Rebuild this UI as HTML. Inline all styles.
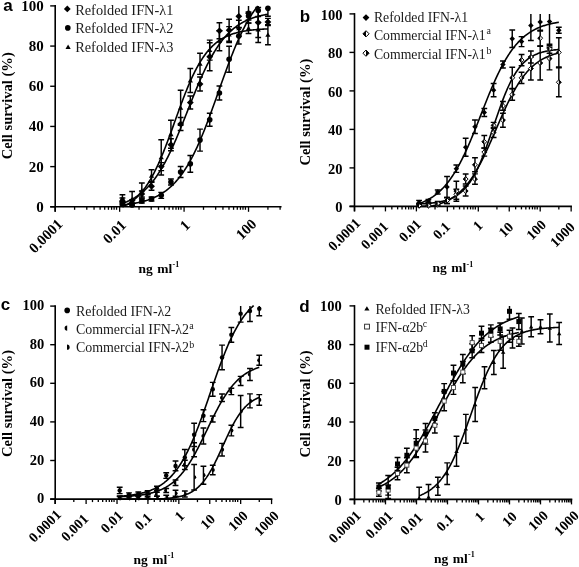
<!DOCTYPE html>
<html><head><meta charset="utf-8"><style>
html,body{margin:0;padding:0;background:#fff;}
svg{display:block;will-change:transform;}
</style></head><body>
<svg width="579" height="567" viewBox="0 0 579 567">
<rect width="579" height="567" fill="#fff"/>
<line x1="55.20" y1="5.10" x2="55.20" y2="211.80" stroke="#000" stroke-width="1.6"/>
<line x1="50.20" y1="206.80" x2="281.54" y2="206.80" stroke="#000" stroke-width="1.6"/>
<line x1="50.20" y1="206.80" x2="55.20" y2="206.80" stroke="#000" stroke-width="1.4"/>
<line x1="50.20" y1="166.62" x2="55.20" y2="166.62" stroke="#000" stroke-width="1.4"/>
<line x1="50.20" y1="126.44" x2="55.20" y2="126.44" stroke="#000" stroke-width="1.4"/>
<line x1="50.20" y1="86.26" x2="55.20" y2="86.26" stroke="#000" stroke-width="1.4"/>
<line x1="50.20" y1="46.08" x2="55.20" y2="46.08" stroke="#000" stroke-width="1.4"/>
<line x1="50.20" y1="5.90" x2="55.20" y2="5.90" stroke="#000" stroke-width="1.4"/>
<line x1="55.20" y1="206.80" x2="55.20" y2="211.80" stroke="#000" stroke-width="1.3"/>
<line x1="74.60" y1="206.80" x2="74.60" y2="209.80" stroke="#000" stroke-width="1.3"/>
<line x1="86.78" y1="206.80" x2="86.78" y2="209.80" stroke="#000" stroke-width="1.3"/>
<line x1="94.06" y1="206.80" x2="94.06" y2="209.80" stroke="#000" stroke-width="1.3"/>
<line x1="100.11" y1="206.80" x2="100.11" y2="209.80" stroke="#000" stroke-width="1.3"/>
<line x1="104.69" y1="206.80" x2="104.69" y2="209.80" stroke="#000" stroke-width="1.3"/>
<line x1="108.43" y1="206.80" x2="108.43" y2="209.80" stroke="#000" stroke-width="1.3"/>
<line x1="111.59" y1="206.80" x2="111.59" y2="209.80" stroke="#000" stroke-width="1.3"/>
<line x1="114.10" y1="206.80" x2="114.10" y2="209.80" stroke="#000" stroke-width="1.3"/>
<line x1="116.55" y1="206.80" x2="116.55" y2="209.80" stroke="#000" stroke-width="1.3"/>
<line x1="119.64" y1="206.80" x2="119.64" y2="211.80" stroke="#000" stroke-width="1.3"/>
<line x1="139.04" y1="206.80" x2="139.04" y2="209.80" stroke="#000" stroke-width="1.3"/>
<line x1="151.22" y1="206.80" x2="151.22" y2="209.80" stroke="#000" stroke-width="1.3"/>
<line x1="158.50" y1="206.80" x2="158.50" y2="209.80" stroke="#000" stroke-width="1.3"/>
<line x1="164.55" y1="206.80" x2="164.55" y2="209.80" stroke="#000" stroke-width="1.3"/>
<line x1="169.13" y1="206.80" x2="169.13" y2="209.80" stroke="#000" stroke-width="1.3"/>
<line x1="172.87" y1="206.80" x2="172.87" y2="209.80" stroke="#000" stroke-width="1.3"/>
<line x1="176.02" y1="206.80" x2="176.02" y2="209.80" stroke="#000" stroke-width="1.3"/>
<line x1="178.54" y1="206.80" x2="178.54" y2="209.80" stroke="#000" stroke-width="1.3"/>
<line x1="180.99" y1="206.80" x2="180.99" y2="209.80" stroke="#000" stroke-width="1.3"/>
<line x1="184.08" y1="206.80" x2="184.08" y2="211.80" stroke="#000" stroke-width="1.3"/>
<line x1="203.48" y1="206.80" x2="203.48" y2="209.80" stroke="#000" stroke-width="1.3"/>
<line x1="215.66" y1="206.80" x2="215.66" y2="209.80" stroke="#000" stroke-width="1.3"/>
<line x1="222.94" y1="206.80" x2="222.94" y2="209.80" stroke="#000" stroke-width="1.3"/>
<line x1="228.99" y1="206.80" x2="228.99" y2="209.80" stroke="#000" stroke-width="1.3"/>
<line x1="233.57" y1="206.80" x2="233.57" y2="209.80" stroke="#000" stroke-width="1.3"/>
<line x1="237.31" y1="206.80" x2="237.31" y2="209.80" stroke="#000" stroke-width="1.3"/>
<line x1="240.46" y1="206.80" x2="240.46" y2="209.80" stroke="#000" stroke-width="1.3"/>
<line x1="242.98" y1="206.80" x2="242.98" y2="209.80" stroke="#000" stroke-width="1.3"/>
<line x1="245.43" y1="206.80" x2="245.43" y2="209.80" stroke="#000" stroke-width="1.3"/>
<line x1="248.52" y1="206.80" x2="248.52" y2="211.80" stroke="#000" stroke-width="1.3"/>
<line x1="267.92" y1="206.80" x2="267.92" y2="209.80" stroke="#000" stroke-width="1.3"/>
<line x1="280.10" y1="206.80" x2="280.10" y2="209.80" stroke="#000" stroke-width="1.3"/>
<text x="43.80" y="211.70" text-anchor="end" style="font-family:'Liberation Serif',serif;font-weight:bold;font-size:15px">0</text>
<text x="43.80" y="171.52" text-anchor="end" style="font-family:'Liberation Serif',serif;font-weight:bold;font-size:15px">20</text>
<text x="43.80" y="131.34" text-anchor="end" style="font-family:'Liberation Serif',serif;font-weight:bold;font-size:15px">40</text>
<text x="43.80" y="91.16" text-anchor="end" style="font-family:'Liberation Serif',serif;font-weight:bold;font-size:15px">60</text>
<text x="43.80" y="50.98" text-anchor="end" style="font-family:'Liberation Serif',serif;font-weight:bold;font-size:15px">80</text>
<text x="43.80" y="10.80" text-anchor="end" style="font-family:'Liberation Serif',serif;font-weight:bold;font-size:15px">100</text>
<text transform="translate(63.50,225.10) rotate(-45)" text-anchor="end" style="font-family:'Liberation Serif',serif;font-weight:bold;font-size:14.8px">0.0001</text>
<text transform="translate(127.10,226.10) rotate(-45)" text-anchor="end" style="font-family:'Liberation Serif',serif;font-weight:bold;font-size:14.8px">0.01</text>
<text transform="translate(191.00,226.20) rotate(-45)" text-anchor="end" style="font-family:'Liberation Serif',serif;font-weight:bold;font-size:14.8px">1</text>
<text transform="translate(257.40,224.90) rotate(-45)" text-anchor="end" style="font-family:'Liberation Serif',serif;font-weight:bold;font-size:14.8px">100</text>
<text x="3.30" y="10.60" style="font-family:'Liberation Sans',sans-serif;font-weight:bold;font-size:17px">a</text>
<text transform="translate(12.10,105.70) rotate(-90)" text-anchor="middle" style="font-family:'Liberation Serif',serif;font-weight:bold;font-size:14.6px">Cell survival (%)</text>
<text x="138.40" y="272.50" style="font-family:'Liberation Serif',serif;font-weight:bold;font-size:13.5px">ng<tspan dx="1.2"> ml</tspan><tspan dx="0.3" dy="-5.2" font-size="8px">-1</tspan></text>
<path d="M67.30 5.50L70.70 8.90L67.30 12.30L63.90 8.90Z" fill="#000"/>
<text x="75.20" y="14.80" fill="#1a1a1a" style="font-family:'Liberation Serif',serif;font-size:14.35px">Refolded IFN-λ1</text>
<circle cx="67.80" cy="27.90" r="2.80" fill="#000"/>
<text x="75.20" y="33.30" fill="#1a1a1a" style="font-family:'Liberation Serif',serif;font-size:14.35px">Refolded IFN-λ2</text>
<path d="M68.10 44.48L70.70 48.88L65.50 48.88Z" fill="#000"/>
<text x="75.20" y="52.10" fill="#1a1a1a" style="font-family:'Liberation Serif',serif;font-size:14.35px">Refolded IFN-λ3</text>
<line x1="354.50" y1="13.10" x2="354.50" y2="211.40" stroke="#000" stroke-width="1.6"/>
<line x1="349.50" y1="206.40" x2="571.95" y2="206.40" stroke="#000" stroke-width="1.6"/>
<line x1="349.50" y1="206.40" x2="354.50" y2="206.40" stroke="#000" stroke-width="1.4"/>
<line x1="349.50" y1="167.90" x2="354.50" y2="167.90" stroke="#000" stroke-width="1.4"/>
<line x1="349.50" y1="129.40" x2="354.50" y2="129.40" stroke="#000" stroke-width="1.4"/>
<line x1="349.50" y1="90.90" x2="354.50" y2="90.90" stroke="#000" stroke-width="1.4"/>
<line x1="349.50" y1="52.40" x2="354.50" y2="52.40" stroke="#000" stroke-width="1.4"/>
<line x1="349.50" y1="13.90" x2="354.50" y2="13.90" stroke="#000" stroke-width="1.4"/>
<line x1="354.50" y1="206.40" x2="354.50" y2="211.40" stroke="#000" stroke-width="1.3"/>
<line x1="373.13" y1="206.40" x2="373.13" y2="209.40" stroke="#000" stroke-width="1.3"/>
<line x1="385.45" y1="206.40" x2="385.45" y2="211.40" stroke="#000" stroke-width="1.3"/>
<line x1="391.83" y1="206.40" x2="391.83" y2="209.40" stroke="#000" stroke-width="1.3"/>
<line x1="397.64" y1="206.40" x2="397.64" y2="209.40" stroke="#000" stroke-width="1.3"/>
<line x1="402.04" y1="206.40" x2="402.04" y2="209.40" stroke="#000" stroke-width="1.3"/>
<line x1="405.63" y1="206.40" x2="405.63" y2="209.40" stroke="#000" stroke-width="1.3"/>
<line x1="408.66" y1="206.40" x2="408.66" y2="209.40" stroke="#000" stroke-width="1.3"/>
<line x1="411.08" y1="206.40" x2="411.08" y2="209.40" stroke="#000" stroke-width="1.3"/>
<line x1="413.43" y1="206.40" x2="413.43" y2="209.40" stroke="#000" stroke-width="1.3"/>
<line x1="416.40" y1="206.40" x2="416.40" y2="211.40" stroke="#000" stroke-width="1.3"/>
<line x1="435.03" y1="206.40" x2="435.03" y2="209.40" stroke="#000" stroke-width="1.3"/>
<line x1="447.35" y1="206.40" x2="447.35" y2="211.40" stroke="#000" stroke-width="1.3"/>
<line x1="453.73" y1="206.40" x2="453.73" y2="209.40" stroke="#000" stroke-width="1.3"/>
<line x1="459.54" y1="206.40" x2="459.54" y2="209.40" stroke="#000" stroke-width="1.3"/>
<line x1="463.94" y1="206.40" x2="463.94" y2="209.40" stroke="#000" stroke-width="1.3"/>
<line x1="467.53" y1="206.40" x2="467.53" y2="209.40" stroke="#000" stroke-width="1.3"/>
<line x1="470.56" y1="206.40" x2="470.56" y2="209.40" stroke="#000" stroke-width="1.3"/>
<line x1="472.98" y1="206.40" x2="472.98" y2="209.40" stroke="#000" stroke-width="1.3"/>
<line x1="475.33" y1="206.40" x2="475.33" y2="209.40" stroke="#000" stroke-width="1.3"/>
<line x1="478.30" y1="206.40" x2="478.30" y2="211.40" stroke="#000" stroke-width="1.3"/>
<line x1="496.93" y1="206.40" x2="496.93" y2="209.40" stroke="#000" stroke-width="1.3"/>
<line x1="509.25" y1="206.40" x2="509.25" y2="211.40" stroke="#000" stroke-width="1.3"/>
<line x1="515.63" y1="206.40" x2="515.63" y2="209.40" stroke="#000" stroke-width="1.3"/>
<line x1="521.44" y1="206.40" x2="521.44" y2="209.40" stroke="#000" stroke-width="1.3"/>
<line x1="525.84" y1="206.40" x2="525.84" y2="209.40" stroke="#000" stroke-width="1.3"/>
<line x1="529.43" y1="206.40" x2="529.43" y2="209.40" stroke="#000" stroke-width="1.3"/>
<line x1="532.46" y1="206.40" x2="532.46" y2="209.40" stroke="#000" stroke-width="1.3"/>
<line x1="534.88" y1="206.40" x2="534.88" y2="209.40" stroke="#000" stroke-width="1.3"/>
<line x1="537.23" y1="206.40" x2="537.23" y2="209.40" stroke="#000" stroke-width="1.3"/>
<line x1="540.20" y1="206.40" x2="540.20" y2="211.40" stroke="#000" stroke-width="1.3"/>
<line x1="558.83" y1="206.40" x2="558.83" y2="209.40" stroke="#000" stroke-width="1.3"/>
<line x1="571.15" y1="206.40" x2="571.15" y2="211.40" stroke="#000" stroke-width="1.3"/>
<text x="342.50" y="212.10" text-anchor="end" style="font-family:'Liberation Serif',serif;font-weight:bold;font-size:14.5px">0</text>
<text x="342.50" y="173.60" text-anchor="end" style="font-family:'Liberation Serif',serif;font-weight:bold;font-size:14.5px">20</text>
<text x="342.50" y="135.10" text-anchor="end" style="font-family:'Liberation Serif',serif;font-weight:bold;font-size:14.5px">40</text>
<text x="342.50" y="96.60" text-anchor="end" style="font-family:'Liberation Serif',serif;font-weight:bold;font-size:14.5px">60</text>
<text x="342.50" y="58.10" text-anchor="end" style="font-family:'Liberation Serif',serif;font-weight:bold;font-size:14.5px">80</text>
<text x="342.50" y="19.60" text-anchor="end" style="font-family:'Liberation Serif',serif;font-weight:bold;font-size:14.5px">100</text>
<text transform="translate(361.30,224.10) rotate(-45)" text-anchor="end" style="font-family:'Liberation Serif',serif;font-weight:bold;font-size:14.2px">0.0001</text>
<text transform="translate(389.00,227.60) rotate(-45)" text-anchor="end" style="font-family:'Liberation Serif',serif;font-weight:bold;font-size:14.2px">0.001</text>
<text transform="translate(422.00,225.30) rotate(-45)" text-anchor="end" style="font-family:'Liberation Serif',serif;font-weight:bold;font-size:14.2px">0.01</text>
<text transform="translate(451.00,227.70) rotate(-45)" text-anchor="end" style="font-family:'Liberation Serif',serif;font-weight:bold;font-size:14.2px">0.1</text>
<text transform="translate(483.40,226.50) rotate(-45)" text-anchor="end" style="font-family:'Liberation Serif',serif;font-weight:bold;font-size:14.2px">1</text>
<text transform="translate(514.20,228.00) rotate(-45)" text-anchor="end" style="font-family:'Liberation Serif',serif;font-weight:bold;font-size:14.2px">10</text>
<text transform="translate(547.10,225.80) rotate(-45)" text-anchor="end" style="font-family:'Liberation Serif',serif;font-weight:bold;font-size:14.2px">100</text>
<text transform="translate(575.70,228.00) rotate(-45)" text-anchor="end" style="font-family:'Liberation Serif',serif;font-weight:bold;font-size:14.2px">1000</text>
<text x="299.80" y="21.80" style="font-family:'Liberation Sans',sans-serif;font-weight:bold;font-size:17px">b</text>
<text transform="translate(309.90,112.10) rotate(-90)" text-anchor="middle" style="font-family:'Liberation Serif',serif;font-weight:bold;font-size:14.6px">Cell survival (%)</text>
<text x="432.40" y="272.10" style="font-family:'Liberation Serif',serif;font-weight:bold;font-size:13.5px">ng<tspan dx="1.2"> ml</tspan><tspan dx="0.3" dy="-5.2" font-size="8px">-1</tspan></text>
<path d="M366.00 14.20L369.40 17.60L366.00 21.00L362.60 17.60Z" fill="#000"/>
<text x="373.90" y="22.00" fill="#1a1a1a" style="font-family:'Liberation Serif',serif;font-size:13.75px">Refolded IFN-λ1</text>
<path d="M366.00 30.70L369.10 33.80L366.00 36.90L362.90 33.80Z" fill="#fff" stroke="#000" stroke-width="1"/>
<path d="M366.00 30.70L366.00 36.90L362.90 33.80Z" fill="#000"/>
<text x="373.90" y="40.10" fill="#1a1a1a" style="font-family:'Liberation Serif',serif;font-size:13.75px">Commercial IFN-λ1<tspan dx="1.0" dy="-5.8" font-size="9.9px">a</tspan></text>
<path d="M366.00 50.10L369.10 53.20L366.00 56.30L362.90 53.20Z" fill="#fff" stroke="#000" stroke-width="1"/>
<path d="M366.00 50.10L369.10 53.20L366.00 56.30Z" fill="#000"/>
<text x="373.90" y="59.30" fill="#1a1a1a" style="font-family:'Liberation Serif',serif;font-size:13.75px">Commercial IFN-λ1<tspan dx="1.0" dy="-5.8" font-size="9.9px">b</tspan></text>
<line x1="55.20" y1="305.30" x2="55.20" y2="504.10" stroke="#000" stroke-width="1.6"/>
<line x1="50.20" y1="499.10" x2="272.37" y2="499.10" stroke="#000" stroke-width="1.6"/>
<line x1="50.20" y1="499.10" x2="55.20" y2="499.10" stroke="#000" stroke-width="1.4"/>
<line x1="50.20" y1="460.50" x2="55.20" y2="460.50" stroke="#000" stroke-width="1.4"/>
<line x1="50.20" y1="421.90" x2="55.20" y2="421.90" stroke="#000" stroke-width="1.4"/>
<line x1="50.20" y1="383.30" x2="55.20" y2="383.30" stroke="#000" stroke-width="1.4"/>
<line x1="50.20" y1="344.70" x2="55.20" y2="344.70" stroke="#000" stroke-width="1.4"/>
<line x1="50.20" y1="306.10" x2="55.20" y2="306.10" stroke="#000" stroke-width="1.4"/>
<line x1="55.20" y1="499.10" x2="55.20" y2="504.10" stroke="#000" stroke-width="1.3"/>
<line x1="73.81" y1="499.10" x2="73.81" y2="502.10" stroke="#000" stroke-width="1.3"/>
<line x1="86.11" y1="499.10" x2="86.11" y2="504.10" stroke="#000" stroke-width="1.3"/>
<line x1="92.48" y1="499.10" x2="92.48" y2="502.10" stroke="#000" stroke-width="1.3"/>
<line x1="98.29" y1="499.10" x2="98.29" y2="502.10" stroke="#000" stroke-width="1.3"/>
<line x1="102.68" y1="499.10" x2="102.68" y2="502.10" stroke="#000" stroke-width="1.3"/>
<line x1="106.26" y1="499.10" x2="106.26" y2="502.10" stroke="#000" stroke-width="1.3"/>
<line x1="109.29" y1="499.10" x2="109.29" y2="502.10" stroke="#000" stroke-width="1.3"/>
<line x1="111.70" y1="499.10" x2="111.70" y2="502.10" stroke="#000" stroke-width="1.3"/>
<line x1="114.05" y1="499.10" x2="114.05" y2="502.10" stroke="#000" stroke-width="1.3"/>
<line x1="117.02" y1="499.10" x2="117.02" y2="504.10" stroke="#000" stroke-width="1.3"/>
<line x1="135.63" y1="499.10" x2="135.63" y2="502.10" stroke="#000" stroke-width="1.3"/>
<line x1="147.93" y1="499.10" x2="147.93" y2="504.10" stroke="#000" stroke-width="1.3"/>
<line x1="154.30" y1="499.10" x2="154.30" y2="502.10" stroke="#000" stroke-width="1.3"/>
<line x1="160.11" y1="499.10" x2="160.11" y2="502.10" stroke="#000" stroke-width="1.3"/>
<line x1="164.50" y1="499.10" x2="164.50" y2="502.10" stroke="#000" stroke-width="1.3"/>
<line x1="168.08" y1="499.10" x2="168.08" y2="502.10" stroke="#000" stroke-width="1.3"/>
<line x1="171.11" y1="499.10" x2="171.11" y2="502.10" stroke="#000" stroke-width="1.3"/>
<line x1="173.52" y1="499.10" x2="173.52" y2="502.10" stroke="#000" stroke-width="1.3"/>
<line x1="175.87" y1="499.10" x2="175.87" y2="502.10" stroke="#000" stroke-width="1.3"/>
<line x1="178.84" y1="499.10" x2="178.84" y2="504.10" stroke="#000" stroke-width="1.3"/>
<line x1="197.45" y1="499.10" x2="197.45" y2="502.10" stroke="#000" stroke-width="1.3"/>
<line x1="209.75" y1="499.10" x2="209.75" y2="504.10" stroke="#000" stroke-width="1.3"/>
<line x1="216.12" y1="499.10" x2="216.12" y2="502.10" stroke="#000" stroke-width="1.3"/>
<line x1="221.93" y1="499.10" x2="221.93" y2="502.10" stroke="#000" stroke-width="1.3"/>
<line x1="226.32" y1="499.10" x2="226.32" y2="502.10" stroke="#000" stroke-width="1.3"/>
<line x1="229.90" y1="499.10" x2="229.90" y2="502.10" stroke="#000" stroke-width="1.3"/>
<line x1="232.93" y1="499.10" x2="232.93" y2="502.10" stroke="#000" stroke-width="1.3"/>
<line x1="235.34" y1="499.10" x2="235.34" y2="502.10" stroke="#000" stroke-width="1.3"/>
<line x1="237.69" y1="499.10" x2="237.69" y2="502.10" stroke="#000" stroke-width="1.3"/>
<line x1="240.66" y1="499.10" x2="240.66" y2="504.10" stroke="#000" stroke-width="1.3"/>
<line x1="259.27" y1="499.10" x2="259.27" y2="502.10" stroke="#000" stroke-width="1.3"/>
<line x1="271.57" y1="499.10" x2="271.57" y2="504.10" stroke="#000" stroke-width="1.3"/>
<text x="44.20" y="503.10" text-anchor="end" style="font-family:'Liberation Serif',serif;font-weight:bold;font-size:14.5px">0</text>
<text x="44.20" y="464.50" text-anchor="end" style="font-family:'Liberation Serif',serif;font-weight:bold;font-size:14.5px">20</text>
<text x="44.20" y="425.90" text-anchor="end" style="font-family:'Liberation Serif',serif;font-weight:bold;font-size:14.5px">40</text>
<text x="44.20" y="387.30" text-anchor="end" style="font-family:'Liberation Serif',serif;font-weight:bold;font-size:14.5px">60</text>
<text x="44.20" y="348.70" text-anchor="end" style="font-family:'Liberation Serif',serif;font-weight:bold;font-size:14.5px">80</text>
<text x="44.20" y="310.10" text-anchor="end" style="font-family:'Liberation Serif',serif;font-weight:bold;font-size:14.5px">100</text>
<text transform="translate(61.90,515.60) rotate(-45)" text-anchor="end" style="font-family:'Liberation Serif',serif;font-weight:bold;font-size:14.2px">0.0001</text>
<text transform="translate(89.30,519.70) rotate(-45)" text-anchor="end" style="font-family:'Liberation Serif',serif;font-weight:bold;font-size:14.2px">0.001</text>
<text transform="translate(123.80,516.50) rotate(-45)" text-anchor="end" style="font-family:'Liberation Serif',serif;font-weight:bold;font-size:14.2px">0.01</text>
<text transform="translate(152.80,518.80) rotate(-45)" text-anchor="end" style="font-family:'Liberation Serif',serif;font-weight:bold;font-size:14.2px">0.1</text>
<text transform="translate(185.30,517.00) rotate(-45)" text-anchor="end" style="font-family:'Liberation Serif',serif;font-weight:bold;font-size:14.2px">1</text>
<text transform="translate(216.10,520.10) rotate(-45)" text-anchor="end" style="font-family:'Liberation Serif',serif;font-weight:bold;font-size:14.2px">10</text>
<text transform="translate(248.70,516.80) rotate(-45)" text-anchor="end" style="font-family:'Liberation Serif',serif;font-weight:bold;font-size:14.2px">100</text>
<text transform="translate(279.80,516.80) rotate(-45)" text-anchor="end" style="font-family:'Liberation Serif',serif;font-weight:bold;font-size:14.2px">1000</text>
<text x="0.80" y="310.00" style="font-family:'Liberation Sans',sans-serif;font-weight:bold;font-size:17px">c</text>
<text transform="translate(12.20,403.50) rotate(-90)" text-anchor="middle" style="font-family:'Liberation Serif',serif;font-weight:bold;font-size:14.6px">Cell survival (%)</text>
<text x="133.50" y="563.60" style="font-family:'Liberation Serif',serif;font-weight:bold;font-size:13.5px">ng<tspan dx="1.2"> ml</tspan><tspan dx="0.3" dy="-5.2" font-size="8px">-1</tspan></text>
<circle cx="67.20" cy="310.40" r="2.80" fill="#000"/>
<text x="75.90" y="315.50" fill="#1a1a1a" style="font-family:'Liberation Serif',serif;font-size:13.95px">Refolded IFN-λ2</text>
<path d="M67.20 325.50A2.60 2.60 0 0 0 67.20 330.70Z" fill="#000"/>
<text x="75.90" y="333.60" fill="#1a1a1a" style="font-family:'Liberation Serif',serif;font-size:13.95px">Commercial IFN-λ2<tspan dx="0.2" dy="-4.9" font-size="10.0px">a</tspan></text>
<path d="M67.00 344.60A2.60 2.60 0 0 1 67.00 349.80Z" fill="#000"/>
<text x="75.90" y="352.40" fill="#1a1a1a" style="font-family:'Liberation Serif',serif;font-size:13.95px">Commercial IFN-λ2<tspan dx="0.2" dy="-4.9" font-size="10.0px">b</tspan></text>
<line x1="354.50" y1="305.10" x2="354.50" y2="504.40" stroke="#000" stroke-width="1.6"/>
<line x1="349.50" y1="499.40" x2="572.30" y2="499.40" stroke="#000" stroke-width="1.6"/>
<line x1="349.50" y1="499.40" x2="354.50" y2="499.40" stroke="#000" stroke-width="1.4"/>
<line x1="349.50" y1="460.70" x2="354.50" y2="460.70" stroke="#000" stroke-width="1.4"/>
<line x1="349.50" y1="422.00" x2="354.50" y2="422.00" stroke="#000" stroke-width="1.4"/>
<line x1="349.50" y1="383.30" x2="354.50" y2="383.30" stroke="#000" stroke-width="1.4"/>
<line x1="349.50" y1="344.60" x2="354.50" y2="344.60" stroke="#000" stroke-width="1.4"/>
<line x1="349.50" y1="305.90" x2="354.50" y2="305.90" stroke="#000" stroke-width="1.4"/>
<line x1="354.50" y1="499.40" x2="354.50" y2="504.40" stroke="#000" stroke-width="1.3"/>
<line x1="363.83" y1="499.40" x2="363.83" y2="502.40" stroke="#000" stroke-width="1.3"/>
<line x1="369.29" y1="499.40" x2="369.29" y2="502.40" stroke="#000" stroke-width="1.3"/>
<line x1="373.16" y1="499.40" x2="373.16" y2="502.40" stroke="#000" stroke-width="1.3"/>
<line x1="376.17" y1="499.40" x2="376.17" y2="502.40" stroke="#000" stroke-width="1.3"/>
<line x1="378.62" y1="499.40" x2="378.62" y2="502.40" stroke="#000" stroke-width="1.3"/>
<line x1="380.70" y1="499.40" x2="380.70" y2="502.40" stroke="#000" stroke-width="1.3"/>
<line x1="382.50" y1="499.40" x2="382.50" y2="502.40" stroke="#000" stroke-width="1.3"/>
<line x1="384.08" y1="499.40" x2="384.08" y2="502.40" stroke="#000" stroke-width="1.3"/>
<line x1="385.50" y1="499.40" x2="385.50" y2="504.40" stroke="#000" stroke-width="1.3"/>
<line x1="394.83" y1="499.40" x2="394.83" y2="502.40" stroke="#000" stroke-width="1.3"/>
<line x1="400.29" y1="499.40" x2="400.29" y2="502.40" stroke="#000" stroke-width="1.3"/>
<line x1="404.16" y1="499.40" x2="404.16" y2="502.40" stroke="#000" stroke-width="1.3"/>
<line x1="407.17" y1="499.40" x2="407.17" y2="502.40" stroke="#000" stroke-width="1.3"/>
<line x1="409.62" y1="499.40" x2="409.62" y2="502.40" stroke="#000" stroke-width="1.3"/>
<line x1="411.70" y1="499.40" x2="411.70" y2="502.40" stroke="#000" stroke-width="1.3"/>
<line x1="413.50" y1="499.40" x2="413.50" y2="502.40" stroke="#000" stroke-width="1.3"/>
<line x1="415.08" y1="499.40" x2="415.08" y2="502.40" stroke="#000" stroke-width="1.3"/>
<line x1="416.50" y1="499.40" x2="416.50" y2="504.40" stroke="#000" stroke-width="1.3"/>
<line x1="425.83" y1="499.40" x2="425.83" y2="502.40" stroke="#000" stroke-width="1.3"/>
<line x1="431.29" y1="499.40" x2="431.29" y2="502.40" stroke="#000" stroke-width="1.3"/>
<line x1="435.16" y1="499.40" x2="435.16" y2="502.40" stroke="#000" stroke-width="1.3"/>
<line x1="438.17" y1="499.40" x2="438.17" y2="502.40" stroke="#000" stroke-width="1.3"/>
<line x1="440.62" y1="499.40" x2="440.62" y2="502.40" stroke="#000" stroke-width="1.3"/>
<line x1="442.70" y1="499.40" x2="442.70" y2="502.40" stroke="#000" stroke-width="1.3"/>
<line x1="444.50" y1="499.40" x2="444.50" y2="502.40" stroke="#000" stroke-width="1.3"/>
<line x1="446.08" y1="499.40" x2="446.08" y2="502.40" stroke="#000" stroke-width="1.3"/>
<line x1="447.50" y1="499.40" x2="447.50" y2="504.40" stroke="#000" stroke-width="1.3"/>
<line x1="456.83" y1="499.40" x2="456.83" y2="502.40" stroke="#000" stroke-width="1.3"/>
<line x1="462.29" y1="499.40" x2="462.29" y2="502.40" stroke="#000" stroke-width="1.3"/>
<line x1="466.16" y1="499.40" x2="466.16" y2="502.40" stroke="#000" stroke-width="1.3"/>
<line x1="469.17" y1="499.40" x2="469.17" y2="502.40" stroke="#000" stroke-width="1.3"/>
<line x1="471.62" y1="499.40" x2="471.62" y2="502.40" stroke="#000" stroke-width="1.3"/>
<line x1="473.70" y1="499.40" x2="473.70" y2="502.40" stroke="#000" stroke-width="1.3"/>
<line x1="475.50" y1="499.40" x2="475.50" y2="502.40" stroke="#000" stroke-width="1.3"/>
<line x1="477.08" y1="499.40" x2="477.08" y2="502.40" stroke="#000" stroke-width="1.3"/>
<line x1="478.50" y1="499.40" x2="478.50" y2="504.40" stroke="#000" stroke-width="1.3"/>
<line x1="487.83" y1="499.40" x2="487.83" y2="502.40" stroke="#000" stroke-width="1.3"/>
<line x1="493.29" y1="499.40" x2="493.29" y2="502.40" stroke="#000" stroke-width="1.3"/>
<line x1="497.16" y1="499.40" x2="497.16" y2="502.40" stroke="#000" stroke-width="1.3"/>
<line x1="500.17" y1="499.40" x2="500.17" y2="502.40" stroke="#000" stroke-width="1.3"/>
<line x1="502.62" y1="499.40" x2="502.62" y2="502.40" stroke="#000" stroke-width="1.3"/>
<line x1="504.70" y1="499.40" x2="504.70" y2="502.40" stroke="#000" stroke-width="1.3"/>
<line x1="506.50" y1="499.40" x2="506.50" y2="502.40" stroke="#000" stroke-width="1.3"/>
<line x1="508.08" y1="499.40" x2="508.08" y2="502.40" stroke="#000" stroke-width="1.3"/>
<line x1="509.50" y1="499.40" x2="509.50" y2="504.40" stroke="#000" stroke-width="1.3"/>
<line x1="518.83" y1="499.40" x2="518.83" y2="502.40" stroke="#000" stroke-width="1.3"/>
<line x1="524.29" y1="499.40" x2="524.29" y2="502.40" stroke="#000" stroke-width="1.3"/>
<line x1="528.16" y1="499.40" x2="528.16" y2="502.40" stroke="#000" stroke-width="1.3"/>
<line x1="531.17" y1="499.40" x2="531.17" y2="502.40" stroke="#000" stroke-width="1.3"/>
<line x1="533.62" y1="499.40" x2="533.62" y2="502.40" stroke="#000" stroke-width="1.3"/>
<line x1="535.70" y1="499.40" x2="535.70" y2="502.40" stroke="#000" stroke-width="1.3"/>
<line x1="537.50" y1="499.40" x2="537.50" y2="502.40" stroke="#000" stroke-width="1.3"/>
<line x1="539.08" y1="499.40" x2="539.08" y2="502.40" stroke="#000" stroke-width="1.3"/>
<line x1="540.50" y1="499.40" x2="540.50" y2="504.40" stroke="#000" stroke-width="1.3"/>
<line x1="549.83" y1="499.40" x2="549.83" y2="502.40" stroke="#000" stroke-width="1.3"/>
<line x1="555.29" y1="499.40" x2="555.29" y2="502.40" stroke="#000" stroke-width="1.3"/>
<line x1="559.16" y1="499.40" x2="559.16" y2="502.40" stroke="#000" stroke-width="1.3"/>
<line x1="562.17" y1="499.40" x2="562.17" y2="502.40" stroke="#000" stroke-width="1.3"/>
<line x1="564.62" y1="499.40" x2="564.62" y2="502.40" stroke="#000" stroke-width="1.3"/>
<line x1="566.70" y1="499.40" x2="566.70" y2="502.40" stroke="#000" stroke-width="1.3"/>
<line x1="568.50" y1="499.40" x2="568.50" y2="502.40" stroke="#000" stroke-width="1.3"/>
<line x1="570.08" y1="499.40" x2="570.08" y2="502.40" stroke="#000" stroke-width="1.3"/>
<line x1="571.50" y1="499.40" x2="571.50" y2="504.40" stroke="#000" stroke-width="1.3"/>
<text x="341.70" y="504.80" text-anchor="end" style="font-family:'Liberation Serif',serif;font-weight:bold;font-size:14.5px">0</text>
<text x="341.70" y="466.10" text-anchor="end" style="font-family:'Liberation Serif',serif;font-weight:bold;font-size:14.5px">20</text>
<text x="341.70" y="427.40" text-anchor="end" style="font-family:'Liberation Serif',serif;font-weight:bold;font-size:14.5px">40</text>
<text x="341.70" y="388.70" text-anchor="end" style="font-family:'Liberation Serif',serif;font-weight:bold;font-size:14.5px">60</text>
<text x="341.70" y="350.00" text-anchor="end" style="font-family:'Liberation Serif',serif;font-weight:bold;font-size:14.5px">80</text>
<text x="341.70" y="311.30" text-anchor="end" style="font-family:'Liberation Serif',serif;font-weight:bold;font-size:14.5px">100</text>
<text transform="translate(361.80,516.40) rotate(-45)" text-anchor="end" style="font-family:'Liberation Serif',serif;font-weight:bold;font-size:14.2px">0.0001</text>
<text transform="translate(393.50,516.90) rotate(-45)" text-anchor="end" style="font-family:'Liberation Serif',serif;font-weight:bold;font-size:14.2px">0.001</text>
<text transform="translate(423.40,518.50) rotate(-45)" text-anchor="end" style="font-family:'Liberation Serif',serif;font-weight:bold;font-size:14.2px">0.01</text>
<text transform="translate(454.50,519.60) rotate(-45)" text-anchor="end" style="font-family:'Liberation Serif',serif;font-weight:bold;font-size:14.2px">0.1</text>
<text transform="translate(485.30,517.70) rotate(-45)" text-anchor="end" style="font-family:'Liberation Serif',serif;font-weight:bold;font-size:14.2px">1</text>
<text transform="translate(517.70,517.50) rotate(-45)" text-anchor="end" style="font-family:'Liberation Serif',serif;font-weight:bold;font-size:14.2px">10</text>
<text transform="translate(548.90,516.50) rotate(-45)" text-anchor="end" style="font-family:'Liberation Serif',serif;font-weight:bold;font-size:14.2px">100</text>
<text transform="translate(579.80,516.50) rotate(-45)" text-anchor="end" style="font-family:'Liberation Serif',serif;font-weight:bold;font-size:14.2px">1000</text>
<text x="299.30" y="311.80" style="font-family:'Liberation Sans',sans-serif;font-weight:bold;font-size:17px">d</text>
<text transform="translate(309.70,403.90) rotate(-90)" text-anchor="middle" style="font-family:'Liberation Serif',serif;font-weight:bold;font-size:14.6px">Cell survival (%)</text>
<text x="433.90" y="562.60" style="font-family:'Liberation Serif',serif;font-weight:bold;font-size:13.5px">ng<tspan dx="1.2"> ml</tspan><tspan dx="0.3" dy="-5.2" font-size="8px">-1</tspan></text>
<path d="M366.90 306.18L369.50 310.58L364.30 310.58Z" fill="#000"/>
<text x="375.40" y="313.80" fill="#1a1a1a" style="font-family:'Liberation Serif',serif;font-size:13.8px">Refolded IFN-λ3</text>
<rect x="364.60" y="324.20" width="4.80" height="4.80" fill="#fff" stroke="#222" stroke-width="0.9"/>
<text x="375.40" y="331.60" fill="#1a1a1a" style="font-family:'Liberation Serif',serif;font-size:13.8px">IFN-α2b<tspan dx="-0.4" dy="-4.8" font-size="9.9px">c</tspan></text>
<rect x="364.50" y="344.70" width="5.00" height="5.00" fill="#000"/>
<text x="375.40" y="351.90" fill="#1a1a1a" style="font-family:'Liberation Serif',serif;font-size:13.8px">IFN-α2b<tspan dx="-0.4" dy="-4.8" font-size="9.9px">d</tspan></text>
<path d="M267.92 24.83V44.83M265.02 24.83H270.82M265.02 44.83H270.82" stroke="#000" stroke-width="1.45" fill="none"/>
<path d="M258.22 16.41V42.41M255.32 16.41H261.12M255.32 42.41H261.12" stroke="#000" stroke-width="1.45" fill="none"/>
<path d="M248.52 22.90V33.50M245.62 22.90H251.42M245.62 33.50H251.42" stroke="#000" stroke-width="1.45" fill="none"/>
<path d="M238.82 20.20V36.20M235.92 20.20H241.72M235.92 36.20H241.72" stroke="#000" stroke-width="1.45" fill="none"/>
<path d="M229.12 26.63V42.63M226.22 26.63H232.02M226.22 42.63H232.02" stroke="#000" stroke-width="1.45" fill="none"/>
<path d="M219.42 30.66V50.66M216.52 30.66H222.32M216.52 50.66H222.32" stroke="#000" stroke-width="1.45" fill="none"/>
<path d="M209.72 40.10V60.10M206.82 40.10H212.62M206.82 60.10H212.62" stroke="#000" stroke-width="1.45" fill="none"/>
<path d="M200.02 53.16V74.36M197.12 53.16H202.92M197.12 74.36H202.92" stroke="#000" stroke-width="1.45" fill="none"/>
<path d="M190.32 68.43V92.43M187.42 68.43H193.22M187.42 92.43H193.22" stroke="#000" stroke-width="1.45" fill="none"/>
<path d="M180.63 90.26V125.26M177.73 90.26H183.53M177.73 125.26H183.53" stroke="#000" stroke-width="1.45" fill="none"/>
<path d="M170.93 120.28V148.28M168.03 120.28H173.83M168.03 148.28H173.83" stroke="#000" stroke-width="1.45" fill="none"/>
<path d="M161.23 139.78V174.98M158.33 139.78H164.13M158.33 174.98H164.13" stroke="#000" stroke-width="1.45" fill="none"/>
<path d="M151.53 169.66V181.66M148.63 169.66H154.43M148.63 181.66H154.43" stroke="#000" stroke-width="1.45" fill="none"/>
<path d="M141.83 182.93V198.13M138.93 182.93H144.73M138.93 198.13H144.73" stroke="#000" stroke-width="1.45" fill="none"/>
<path d="M132.13 199.98V205.98M129.23 199.98H135.03M129.23 205.98H135.03" stroke="#000" stroke-width="1.45" fill="none"/>
<path d="M122.43 194.76V201.96M119.53 194.76H125.33M119.53 201.96H125.33" stroke="#000" stroke-width="1.45" fill="none"/>
<path d="M267.92 5.90V16.31M265.02 16.31H270.82" stroke="#000" stroke-width="1.45" fill="none"/>
<path d="M258.22 5.90V22.52M255.32 22.52H261.12" stroke="#000" stroke-width="1.45" fill="none"/>
<path d="M248.52 11.95V19.95M245.62 11.95H251.42M245.62 19.95H251.42" stroke="#000" stroke-width="1.45" fill="none"/>
<path d="M238.82 28.04V44.04M235.92 28.04H241.72M235.92 44.04H241.72" stroke="#000" stroke-width="1.45" fill="none"/>
<path d="M229.12 46.34V72.34M226.22 46.34H232.02M226.22 72.34H232.02" stroke="#000" stroke-width="1.45" fill="none"/>
<path d="M219.42 86.09V100.09M216.52 86.09H222.32M216.52 100.09H222.32" stroke="#000" stroke-width="1.45" fill="none"/>
<path d="M209.72 113.31V126.31M206.82 113.31H212.62M206.82 126.31H212.62" stroke="#000" stroke-width="1.45" fill="none"/>
<path d="M200.02 129.10V151.10M197.12 129.10H202.92M197.12 151.10H202.92" stroke="#000" stroke-width="1.45" fill="none"/>
<path d="M190.32 155.41V172.21M187.42 155.41H193.22M187.42 172.21H193.22" stroke="#000" stroke-width="1.45" fill="none"/>
<path d="M180.63 166.54V177.54M177.73 166.54H183.53M177.73 177.54H183.53" stroke="#000" stroke-width="1.45" fill="none"/>
<path d="M170.93 179.09V185.09M168.03 179.09H173.83M168.03 185.09H173.83" stroke="#000" stroke-width="1.45" fill="none"/>
<path d="M161.23 192.35V198.35M158.33 192.35H164.13M158.33 198.35H164.13" stroke="#000" stroke-width="1.45" fill="none"/>
<path d="M151.53 196.96V200.96M148.63 196.96H154.43M148.63 200.96H154.43" stroke="#000" stroke-width="1.45" fill="none"/>
<path d="M141.83 198.97V202.97M138.93 198.97H144.73M138.93 202.97H144.73" stroke="#000" stroke-width="1.45" fill="none"/>
<path d="M132.13 202.99V206.80M129.23 202.99H135.03" stroke="#000" stroke-width="1.45" fill="none"/>
<path d="M122.43 201.99V205.99M119.53 201.99H125.33M119.53 205.99H125.33" stroke="#000" stroke-width="1.45" fill="none"/>
<path d="M267.92 18.37V25.57M265.02 18.37H270.82M265.02 25.57H270.82" stroke="#000" stroke-width="1.45" fill="none"/>
<path d="M258.22 7.57V37.57M255.32 7.57H261.12M255.32 37.57H261.12" stroke="#000" stroke-width="1.45" fill="none"/>
<path d="M248.52 5.90V23.13M245.62 23.13H251.42" stroke="#000" stroke-width="1.45" fill="none"/>
<path d="M238.82 5.90V27.35M235.92 27.35H241.72" stroke="#000" stroke-width="1.45" fill="none"/>
<path d="M229.12 19.21V41.21M226.22 19.21H232.02M226.22 41.21H232.02" stroke="#000" stroke-width="1.45" fill="none"/>
<path d="M219.42 22.81V38.81M216.52 22.81H222.32M216.52 38.81H222.32" stroke="#000" stroke-width="1.45" fill="none"/>
<path d="M209.72 42.73V70.73M206.82 42.73H212.62M206.82 70.73H212.62" stroke="#000" stroke-width="1.45" fill="none"/>
<path d="M200.02 77.05V91.05M197.12 77.05H202.92M197.12 91.05H202.92" stroke="#000" stroke-width="1.45" fill="none"/>
<path d="M190.32 96.03V109.03M187.42 96.03H193.22M187.42 109.03H193.22" stroke="#000" stroke-width="1.45" fill="none"/>
<path d="M180.63 117.53V130.53M177.73 117.53H183.53M177.73 130.53H183.53" stroke="#000" stroke-width="1.45" fill="none"/>
<path d="M170.93 138.72V150.72M168.03 138.72H173.83M168.03 150.72H173.83" stroke="#000" stroke-width="1.45" fill="none"/>
<path d="M161.23 162.62V170.62M158.33 162.62H164.13M158.33 170.62H164.13" stroke="#000" stroke-width="1.45" fill="none"/>
<path d="M151.53 182.31V190.31M148.63 182.31H154.43M148.63 190.31H154.43" stroke="#000" stroke-width="1.45" fill="none"/>
<path d="M141.83 190.94V196.94M138.93 190.94H144.73M138.93 196.94H144.73" stroke="#000" stroke-width="1.45" fill="none"/>
<path d="M132.13 191.57V206.80M129.23 191.57H135.03" stroke="#000" stroke-width="1.45" fill="none"/>
<path d="M122.43 197.97V203.97M119.53 197.97H125.33M119.53 203.97H125.33" stroke="#000" stroke-width="1.45" fill="none"/>
<path d="M558.83 67.74V96.74M555.93 67.74H561.73M555.93 96.74H561.73" stroke="#000" stroke-width="1.45" fill="none"/>
<path d="M549.52 47.26V69.86M546.62 47.26H552.42M546.62 69.86H552.42" stroke="#000" stroke-width="1.45" fill="none"/>
<path d="M540.20 45.99V79.99M537.30 45.99H543.10M537.30 79.99H543.10" stroke="#000" stroke-width="1.45" fill="none"/>
<path d="M530.88 57.07V80.07M527.98 57.07H533.78M527.98 80.07H533.78" stroke="#000" stroke-width="1.45" fill="none"/>
<path d="M521.57 72.21V83.41M518.67 72.21H524.47M518.67 83.41H524.47" stroke="#000" stroke-width="1.45" fill="none"/>
<path d="M512.25 88.86V100.26M509.35 88.86H515.15M509.35 100.26H515.15" stroke="#000" stroke-width="1.45" fill="none"/>
<path d="M502.93 113.16V127.16M500.03 113.16H505.83M500.03 127.16H505.83" stroke="#000" stroke-width="1.45" fill="none"/>
<path d="M493.62 127.48V137.48M490.72 127.48H496.52M490.72 137.48H496.52" stroke="#000" stroke-width="1.45" fill="none"/>
<path d="M484.30 148.12V156.12M481.40 148.12H487.20M481.40 156.12H487.20" stroke="#000" stroke-width="1.45" fill="none"/>
<path d="M474.98 173.87V184.26M472.08 173.87H477.88M472.08 184.26H477.88" stroke="#000" stroke-width="1.45" fill="none"/>
<path d="M465.66 186.00V196.00M462.76 186.00H468.56M462.76 196.00H468.56" stroke="#000" stroke-width="1.45" fill="none"/>
<path d="M456.35 189.27V199.27M453.45 189.27H459.25M453.45 199.27H459.25" stroke="#000" stroke-width="1.45" fill="none"/>
<path d="M447.03 197.62V203.62M444.13 197.62H449.93M444.13 203.62H449.93" stroke="#000" stroke-width="1.45" fill="none"/>
<path d="M437.71 202.47V206.40M434.81 202.47H440.61" stroke="#000" stroke-width="1.45" fill="none"/>
<path d="M428.40 203.44V206.40M425.50 203.44H431.30" stroke="#000" stroke-width="1.45" fill="none"/>
<path d="M419.08 203.82V206.40M416.18 203.82H421.98" stroke="#000" stroke-width="1.45" fill="none"/>
<path d="M558.83 37.80V67.00M555.93 37.80H561.73M555.93 67.00H561.73" stroke="#000" stroke-width="1.45" fill="none"/>
<path d="M549.52 44.24V53.24M546.62 44.24H552.42M546.62 53.24H552.42" stroke="#000" stroke-width="1.45" fill="none"/>
<path d="M540.20 30.16V46.16M537.30 30.16H543.10M537.30 46.16H543.10" stroke="#000" stroke-width="1.45" fill="none"/>
<path d="M530.88 51.02V63.02M527.98 51.02H533.78M527.98 63.02H533.78" stroke="#000" stroke-width="1.45" fill="none"/>
<path d="M521.57 54.40V65.80M518.67 54.40H524.47M518.67 65.80H524.47" stroke="#000" stroke-width="1.45" fill="none"/>
<path d="M512.25 67.21V88.41M509.35 67.21H515.15M509.35 88.41H515.15" stroke="#000" stroke-width="1.45" fill="none"/>
<path d="M502.93 101.51V110.31M500.03 101.51H505.83M500.03 110.31H505.83" stroke="#000" stroke-width="1.45" fill="none"/>
<path d="M493.62 122.36V128.36M490.72 122.36H496.52M490.72 128.36H496.52" stroke="#000" stroke-width="1.45" fill="none"/>
<path d="M484.30 135.42V148.02M481.40 135.42H487.20M481.40 148.02H487.20" stroke="#000" stroke-width="1.45" fill="none"/>
<path d="M474.98 157.82V171.82M472.08 157.82H477.88M472.08 171.82H477.88" stroke="#000" stroke-width="1.45" fill="none"/>
<path d="M465.66 174.06V184.06M462.76 174.06H468.56M462.76 184.06H468.56" stroke="#000" stroke-width="1.45" fill="none"/>
<path d="M456.35 181.19V201.19M453.45 181.19H459.25M453.45 201.19H459.25" stroke="#000" stroke-width="1.45" fill="none"/>
<path d="M447.03 197.43V203.43M444.13 197.43H449.93M444.13 203.43H449.93" stroke="#000" stroke-width="1.45" fill="none"/>
<path d="M437.71 201.51V205.51M434.81 201.51H440.61M434.81 205.51H440.61" stroke="#000" stroke-width="1.45" fill="none"/>
<path d="M428.40 203.44V206.40M425.50 203.44H431.30" stroke="#000" stroke-width="1.45" fill="none"/>
<path d="M419.08 203.44V206.40M416.18 203.44H421.98" stroke="#000" stroke-width="1.45" fill="none"/>
<path d="M558.83 27.26V33.26M555.93 27.26H561.73M555.93 33.26H561.73" stroke="#000" stroke-width="1.45" fill="none"/>
<path d="M549.52 13.90V45.60M546.62 45.60H552.42" stroke="#000" stroke-width="1.45" fill="none"/>
<path d="M540.20 13.90V30.99M537.30 30.99H543.10" stroke="#000" stroke-width="1.45" fill="none"/>
<path d="M530.88 13.90V40.45M527.98 40.45H533.78" stroke="#000" stroke-width="1.45" fill="none"/>
<path d="M521.57 36.62V46.62M518.67 36.62H524.47M518.67 46.62H524.47" stroke="#000" stroke-width="1.45" fill="none"/>
<path d="M512.25 29.93V47.53M509.35 29.93H515.15M509.35 47.53H515.15" stroke="#000" stroke-width="1.45" fill="none"/>
<path d="M502.93 61.03V68.03M500.03 61.03H505.83M500.03 68.03H505.83" stroke="#000" stroke-width="1.45" fill="none"/>
<path d="M493.62 83.53V96.73M490.72 83.53H496.52M490.72 96.73H496.52" stroke="#000" stroke-width="1.45" fill="none"/>
<path d="M484.30 108.46V116.46M481.40 108.46H487.20M481.40 116.46H487.20" stroke="#000" stroke-width="1.45" fill="none"/>
<path d="M474.98 120.01V133.41M472.08 120.01H477.88M472.08 133.41H477.88" stroke="#000" stroke-width="1.45" fill="none"/>
<path d="M465.66 138.30V156.30M462.76 138.30H468.56M462.76 156.30H468.56" stroke="#000" stroke-width="1.45" fill="none"/>
<path d="M456.35 164.97V172.37M453.45 164.97H459.25M453.45 172.37H459.25" stroke="#000" stroke-width="1.45" fill="none"/>
<path d="M447.03 176.46V197.46M444.13 176.46H449.93M444.13 197.46H449.93" stroke="#000" stroke-width="1.45" fill="none"/>
<path d="M437.71 189.96V193.96M434.81 189.96H440.61M434.81 193.96H440.61" stroke="#000" stroke-width="1.45" fill="none"/>
<path d="M428.40 199.51V202.51M425.50 199.51H431.30M425.50 202.51H431.30" stroke="#000" stroke-width="1.45" fill="none"/>
<path d="M419.08 200.36V204.36M416.18 200.36H421.98M416.18 204.36H421.98" stroke="#000" stroke-width="1.45" fill="none"/>
<path d="M259.27 394.60V405.20M256.37 394.60H262.17M256.37 405.20H262.17" stroke="#000" stroke-width="1.45" fill="none"/>
<path d="M249.96 393.86V407.86M247.06 393.86H252.86M247.06 407.86H252.86" stroke="#000" stroke-width="1.45" fill="none"/>
<path d="M240.66 395.48V427.48M237.76 395.48H243.56M237.76 427.48H243.56" stroke="#000" stroke-width="1.45" fill="none"/>
<path d="M231.36 425.29V435.89M228.46 425.29H234.26M228.46 435.89H234.26" stroke="#000" stroke-width="1.45" fill="none"/>
<path d="M222.05 443.39V455.99M219.15 443.39H224.95M219.15 455.99H224.95" stroke="#000" stroke-width="1.45" fill="none"/>
<path d="M212.75 465.16V474.76M209.85 465.16H215.65M209.85 474.76H215.65" stroke="#000" stroke-width="1.45" fill="none"/>
<path d="M203.44 466.17V484.17M200.54 466.17H206.34M200.54 484.17H206.34" stroke="#000" stroke-width="1.45" fill="none"/>
<path d="M194.14 464.59V489.99M191.24 464.59H197.04M191.24 489.99H197.04" stroke="#000" stroke-width="1.45" fill="none"/>
<path d="M184.83 491.08V497.08M181.93 491.08H187.73M181.93 497.08H187.73" stroke="#000" stroke-width="1.45" fill="none"/>
<path d="M175.53 490.31V496.31M172.63 490.31H178.43M172.63 496.31H178.43" stroke="#000" stroke-width="1.45" fill="none"/>
<path d="M166.22 495.17V499.10M163.32 495.17H169.12" stroke="#000" stroke-width="1.45" fill="none"/>
<path d="M156.92 496.14V499.10M154.02 496.14H159.82" stroke="#000" stroke-width="1.45" fill="none"/>
<path d="M147.61 496.52V499.10M144.71 496.52H150.51" stroke="#000" stroke-width="1.45" fill="none"/>
<path d="M138.31 496.52V499.10M135.41 496.52H141.21" stroke="#000" stroke-width="1.45" fill="none"/>
<path d="M129.00 496.52V499.10M126.10 496.52H131.90" stroke="#000" stroke-width="1.45" fill="none"/>
<path d="M119.70 496.52V499.10M116.80 496.52H122.60" stroke="#000" stroke-width="1.45" fill="none"/>
<path d="M259.27 355.33V365.33M256.37 355.33H262.17M256.37 365.33H262.17" stroke="#000" stroke-width="1.45" fill="none"/>
<path d="M249.96 368.42V380.42M247.06 368.42H252.86M247.06 380.42H252.86" stroke="#000" stroke-width="1.45" fill="none"/>
<path d="M240.66 376.38V385.58M237.76 376.38H243.56M237.76 385.58H243.56" stroke="#000" stroke-width="1.45" fill="none"/>
<path d="M231.36 388.21V394.61M228.46 388.21H234.26M228.46 394.61H234.26" stroke="#000" stroke-width="1.45" fill="none"/>
<path d="M222.05 394.08V401.48M219.15 394.08H224.95M219.15 401.48H224.95" stroke="#000" stroke-width="1.45" fill="none"/>
<path d="M212.75 416.00V422.00M209.85 416.00H215.65M209.85 422.00H215.65" stroke="#000" stroke-width="1.45" fill="none"/>
<path d="M203.44 427.99V443.99M200.54 427.99H206.34M200.54 443.99H206.34" stroke="#000" stroke-width="1.45" fill="none"/>
<path d="M194.14 442.69V456.69M191.24 442.69H197.04M191.24 456.69H197.04" stroke="#000" stroke-width="1.45" fill="none"/>
<path d="M184.83 460.34V469.54M181.93 460.34H187.73M181.93 469.54H187.73" stroke="#000" stroke-width="1.45" fill="none"/>
<path d="M175.53 479.90V485.50M172.63 479.90H178.43M172.63 485.50H178.43" stroke="#000" stroke-width="1.45" fill="none"/>
<path d="M166.22 488.42V492.42M163.32 488.42H169.12M163.32 492.42H169.12" stroke="#000" stroke-width="1.45" fill="none"/>
<path d="M156.92 492.28V496.28M154.02 492.28H159.82M154.02 496.28H159.82" stroke="#000" stroke-width="1.45" fill="none"/>
<path d="M147.61 494.21V498.21M144.71 494.21H150.51M144.71 498.21H150.51" stroke="#000" stroke-width="1.45" fill="none"/>
<path d="M138.31 495.17V499.10M135.41 495.17H141.21" stroke="#000" stroke-width="1.45" fill="none"/>
<path d="M129.00 495.56V499.10M126.10 495.56H131.90" stroke="#000" stroke-width="1.45" fill="none"/>
<path d="M119.70 495.94V499.10M116.80 495.94H122.60" stroke="#000" stroke-width="1.45" fill="none"/>
<path d="M259.27 306.10V315.80M256.37 315.80H262.17" stroke="#000" stroke-width="1.45" fill="none"/>
<path d="M249.96 306.10V321.53M247.06 321.53H252.86" stroke="#000" stroke-width="1.45" fill="none"/>
<path d="M240.66 306.10V322.13M237.76 322.13H243.56" stroke="#000" stroke-width="1.45" fill="none"/>
<path d="M231.36 327.46V342.26M228.46 327.46H234.26M228.46 342.26H234.26" stroke="#000" stroke-width="1.45" fill="none"/>
<path d="M222.05 345.14V369.74M219.15 345.14H224.95M219.15 369.74H224.95" stroke="#000" stroke-width="1.45" fill="none"/>
<path d="M212.75 382.38V396.18M209.85 382.38H215.65M209.85 396.18H215.65" stroke="#000" stroke-width="1.45" fill="none"/>
<path d="M203.44 409.82V421.62M200.54 409.82H206.34M200.54 421.62H206.34" stroke="#000" stroke-width="1.45" fill="none"/>
<path d="M194.14 423.23V446.43M191.24 423.23H197.04M191.24 446.43H197.04" stroke="#000" stroke-width="1.45" fill="none"/>
<path d="M184.83 449.41V465.81M181.93 449.41H187.73M181.93 465.81H187.73" stroke="#000" stroke-width="1.45" fill="none"/>
<path d="M175.53 461.00V470.80M172.63 461.00H178.43M172.63 470.80H178.43" stroke="#000" stroke-width="1.45" fill="none"/>
<path d="M166.22 472.75V478.35M163.32 472.75H169.12M163.32 478.35H169.12" stroke="#000" stroke-width="1.45" fill="none"/>
<path d="M156.92 486.29V490.29M154.02 486.29H159.82M154.02 490.29H159.82" stroke="#000" stroke-width="1.45" fill="none"/>
<path d="M147.61 490.73V494.73M144.71 490.73H150.51M144.71 494.73H150.51" stroke="#000" stroke-width="1.45" fill="none"/>
<path d="M138.31 492.08V496.08M135.41 492.08H141.21M135.41 496.08H141.21" stroke="#000" stroke-width="1.45" fill="none"/>
<path d="M129.00 492.85V496.85M126.10 492.85H131.90M126.10 496.85H131.90" stroke="#000" stroke-width="1.45" fill="none"/>
<path d="M119.70 487.22V493.62M116.80 487.22H122.60M116.80 493.62H122.60" stroke="#000" stroke-width="1.45" fill="none"/>
<path d="M559.16 322.57V344.57M556.26 322.57H562.06M556.26 344.57H562.06" stroke="#000" stroke-width="1.45" fill="none"/>
<path d="M549.83 313.96V341.96M546.93 313.96H552.73M546.93 341.96H552.73" stroke="#000" stroke-width="1.45" fill="none"/>
<path d="M540.50 319.80V333.80M537.60 319.80H543.40M537.60 333.80H543.40" stroke="#000" stroke-width="1.45" fill="none"/>
<path d="M531.17 316.80V336.80M528.27 316.80H534.07M528.27 336.80H534.07" stroke="#000" stroke-width="1.45" fill="none"/>
<path d="M521.84 318.05V344.05M518.94 318.05H524.74M518.94 344.05H524.74" stroke="#000" stroke-width="1.45" fill="none"/>
<path d="M512.50 328.02V348.02M509.60 328.02H515.40M509.60 348.02H515.40" stroke="#000" stroke-width="1.45" fill="none"/>
<path d="M503.17 336.15V368.15M500.27 336.15H506.07M500.27 368.15H506.07" stroke="#000" stroke-width="1.45" fill="none"/>
<path d="M493.84 350.40V374.40M490.94 350.40H496.74M490.94 374.40H496.74" stroke="#000" stroke-width="1.45" fill="none"/>
<path d="M484.51 366.69V388.69M481.61 366.69H487.41M481.61 388.69H487.41" stroke="#000" stroke-width="1.45" fill="none"/>
<path d="M475.18 387.58V421.58M472.28 387.58H478.08M472.28 421.58H478.08" stroke="#000" stroke-width="1.45" fill="none"/>
<path d="M465.84 414.37V443.17M462.94 414.37H468.74M462.94 443.17H468.74" stroke="#000" stroke-width="1.45" fill="none"/>
<path d="M456.51 436.22V466.22M453.61 436.22H459.41M453.61 466.22H459.41" stroke="#000" stroke-width="1.45" fill="none"/>
<path d="M447.18 462.86V484.46M444.28 462.86H450.08M444.28 484.46H450.08" stroke="#000" stroke-width="1.45" fill="none"/>
<path d="M437.85 477.24V495.24M434.95 477.24H440.75M434.95 495.24H440.75" stroke="#000" stroke-width="1.45" fill="none"/>
<path d="M428.52 484.48V499.40M425.62 484.48H431.42" stroke="#000" stroke-width="1.45" fill="none"/>
<path d="M419.18 487.25V499.40M416.28 487.25H422.08" stroke="#000" stroke-width="1.45" fill="none"/>
<path d="M518.83 336.31V346.31M515.93 336.31H521.73M515.93 346.31H521.73" stroke="#000" stroke-width="1.45" fill="none"/>
<path d="M509.50 330.28V342.28M506.60 330.28H512.40M506.60 342.28H512.40" stroke="#000" stroke-width="1.45" fill="none"/>
<path d="M500.17 332.31V350.31M497.27 332.31H503.07M497.27 350.31H503.07" stroke="#000" stroke-width="1.45" fill="none"/>
<path d="M490.84 328.31V342.31M487.94 328.31H493.74M487.94 342.31H493.74" stroke="#000" stroke-width="1.45" fill="none"/>
<path d="M481.50 338.57V352.57M478.60 338.57H484.40M478.60 352.57H484.40" stroke="#000" stroke-width="1.45" fill="none"/>
<path d="M472.17 335.66V349.66M469.27 335.66H475.07M469.27 349.66H475.07" stroke="#000" stroke-width="1.45" fill="none"/>
<path d="M462.84 361.38V382.78M459.94 361.38H465.74M459.94 382.78H465.74" stroke="#000" stroke-width="1.45" fill="none"/>
<path d="M453.51 380.76V394.36M450.61 380.76H456.41M450.61 394.36H456.41" stroke="#000" stroke-width="1.45" fill="none"/>
<path d="M444.18 391.40V410.80M441.28 391.40H447.08M441.28 410.80H447.08" stroke="#000" stroke-width="1.45" fill="none"/>
<path d="M434.84 417.49V433.09M431.94 417.49H437.74M431.94 433.09H437.74" stroke="#000" stroke-width="1.45" fill="none"/>
<path d="M425.51 429.96V451.96M422.61 429.96H428.41M422.61 451.96H428.41" stroke="#000" stroke-width="1.45" fill="none"/>
<path d="M416.18 438.62V457.62M413.28 438.62H419.08M413.28 457.62H419.08" stroke="#000" stroke-width="1.45" fill="none"/>
<path d="M406.85 457.65V472.65M403.95 457.65H409.75M403.95 472.65H409.75" stroke="#000" stroke-width="1.45" fill="none"/>
<path d="M397.52 467.17V479.77M394.62 467.17H400.42M394.62 479.77H400.42" stroke="#000" stroke-width="1.45" fill="none"/>
<path d="M388.18 485.11V495.11M385.28 485.11H391.08M385.28 495.11H391.08" stroke="#000" stroke-width="1.45" fill="none"/>
<path d="M378.85 488.24V496.24M375.95 488.24H381.75M375.95 496.24H381.75" stroke="#000" stroke-width="1.45" fill="none"/>
<path d="M518.83 313.57V329.57M515.93 313.57H521.73M515.93 329.57H521.73" stroke="#000" stroke-width="1.45" fill="none"/>
<path d="M509.50 305.90V319.32M506.60 319.32H512.40" stroke="#000" stroke-width="1.45" fill="none"/>
<path d="M500.17 322.93V334.93M497.27 322.93H503.07M497.27 334.93H503.07" stroke="#000" stroke-width="1.45" fill="none"/>
<path d="M490.84 324.86V336.86M487.94 324.86H493.74M487.94 336.86H493.74" stroke="#000" stroke-width="1.45" fill="none"/>
<path d="M481.50 326.18V340.18M478.60 326.18H484.40M478.60 340.18H484.40" stroke="#000" stroke-width="1.45" fill="none"/>
<path d="M472.17 343.79V357.79M469.27 343.79H475.07M469.27 357.79H475.07" stroke="#000" stroke-width="1.45" fill="none"/>
<path d="M462.84 354.44V373.84M459.94 354.44H465.74M459.94 373.84H465.74" stroke="#000" stroke-width="1.45" fill="none"/>
<path d="M453.51 365.24V380.84M450.61 365.24H456.41M450.61 380.84H456.41" stroke="#000" stroke-width="1.45" fill="none"/>
<path d="M444.18 383.63V399.23M441.28 383.63H447.08M441.28 399.23H447.08" stroke="#000" stroke-width="1.45" fill="none"/>
<path d="M434.84 412.72V424.32M431.94 412.72H437.74M431.94 424.32H437.74" stroke="#000" stroke-width="1.45" fill="none"/>
<path d="M425.51 423.50V444.10M422.61 423.50H428.41M422.61 444.10H428.41" stroke="#000" stroke-width="1.45" fill="none"/>
<path d="M416.18 429.78V456.78M413.28 429.78H419.08M413.28 456.78H419.08" stroke="#000" stroke-width="1.45" fill="none"/>
<path d="M406.85 448.28V462.28M403.95 448.28H409.75M403.95 462.28H409.75" stroke="#000" stroke-width="1.45" fill="none"/>
<path d="M397.52 457.59V470.39M394.62 457.59H400.42M394.62 470.39H400.42" stroke="#000" stroke-width="1.45" fill="none"/>
<path d="M388.18 475.52V498.52M385.28 475.52H391.08M385.28 498.52H391.08" stroke="#000" stroke-width="1.45" fill="none"/>
<path d="M378.85 483.02V491.02M375.95 483.02H381.75M375.95 491.02H381.75" stroke="#000" stroke-width="1.45" fill="none"/>
<polyline points="122.43,206.80 123.16,206.63 123.89,206.28 124.61,205.92 125.34,205.54 126.07,205.15 126.80,204.75 127.52,204.33 128.25,203.89 128.98,203.43 129.70,202.96 130.43,202.47 131.16,201.96 131.89,201.43 132.61,200.88 133.34,200.31 134.07,199.72 134.80,199.10 135.52,198.47 136.25,197.81 136.98,197.12 137.71,196.42 138.43,195.68 139.16,194.93 139.89,194.14 140.62,193.33 141.34,192.49 142.07,191.63 142.80,190.73 143.53,189.80 144.25,188.85 144.98,187.87 145.71,186.85 146.44,185.80 147.16,184.72 147.89,183.61 148.62,182.47 149.35,181.29 150.07,180.08 150.80,178.84 151.53,177.56 152.26,176.26 152.98,174.91 153.71,173.53 154.44,172.12 155.17,170.68 155.89,169.20 156.62,167.69 157.35,166.15 158.08,164.57 158.80,162.96 159.53,161.32 160.26,159.65 160.98,157.95 161.71,156.22 162.44,154.47 163.17,152.68 163.89,150.87 164.62,149.04 165.35,147.18 166.08,145.30 166.80,143.40 167.53,141.48 168.26,139.54 168.99,137.58 169.71,135.61 170.44,133.63 171.17,131.64 171.90,129.63 172.62,127.62 173.35,125.61 174.08,123.59 174.81,121.56 175.53,119.54 176.26,117.52 176.99,115.50 177.72,113.49 178.44,111.49 179.17,109.49 179.90,107.51 180.63,105.54 181.35,103.58 182.08,101.64 182.81,99.72 183.54,97.82 184.26,95.94 184.99,94.08 185.72,92.24 186.45,90.43 187.17,88.65 187.90,86.89 188.63,85.16 189.35,83.46 190.08,81.78 190.81,80.14 191.54,78.53 192.26,76.95 192.99,75.41 193.72,73.90 194.45,72.42 195.17,70.97 195.90,69.56 196.63,68.18 197.36,66.83 198.08,65.52 198.81,64.24 199.54,63.00 200.27,61.79 200.99,60.61 201.72,59.46 202.45,58.35 203.18,57.27 203.90,56.22 204.63,55.20 205.36,54.22 206.09,53.26 206.81,52.33 207.54,51.44 208.27,50.57 209.00,49.73 209.72,48.91 210.45,48.13 211.18,47.37 211.91,46.64 212.63,45.93 213.36,45.24 214.09,44.58 214.82,43.94 215.54,43.33 216.27,42.74 217.00,42.17 217.73,41.61 218.45,41.08 219.18,40.57 219.91,40.08 220.63,39.61 221.36,39.15 222.09,38.71 222.82,38.29 223.54,37.88 224.27,37.49 225.00,37.11 225.73,36.75 226.45,36.40 227.18,36.07 227.91,35.75 228.64,35.44 229.36,35.14 230.09,34.86 230.82,34.58 231.55,34.32 232.27,34.07 233.00,33.82 233.73,33.59 234.46,33.37 235.18,33.15 235.91,32.95 236.64,32.75 237.37,32.56 238.09,32.38 238.82,32.20 239.55,32.04 240.28,31.88 241.00,31.72 241.73,31.57 242.46,31.43 243.19,31.30 243.91,31.17 244.64,31.04 245.37,30.92 246.10,30.81 246.82,30.70 247.55,30.59 248.28,30.49 249.00,30.39 249.73,30.30 250.46,30.21 251.19,30.12 251.91,30.04 252.64,29.96 253.37,29.89 254.10,29.82 254.82,29.75 255.55,29.68 256.28,29.62 257.01,29.56 257.73,29.50 258.46,29.44 259.19,29.39 259.92,29.34 260.64,29.29 261.37,29.24 262.10,29.20 262.83,29.15 263.55,29.11 264.28,29.07 265.01,29.03 265.74,29.00 266.46,28.96 267.19,28.93 267.92,28.90" fill="none" stroke="#000" stroke-width="1.6" stroke-linejoin="round"/>
<polyline points="122.43,203.39 123.16,203.13 123.89,202.87 124.61,202.59 125.34,202.31 126.07,202.02 126.80,201.72 127.52,201.40 128.25,201.08 128.98,200.75 129.70,200.40 130.43,200.04 131.16,199.67 131.89,199.29 132.61,198.90 133.34,198.49 134.07,198.07 134.80,197.64 135.52,197.19 136.25,196.72 136.98,196.25 137.71,195.75 138.43,195.24 139.16,194.72 139.89,194.17 140.62,193.61 141.34,193.04 142.07,192.44 142.80,191.83 143.53,191.20 144.25,190.55 144.98,189.88 145.71,189.19 146.44,188.48 147.16,187.74 147.89,186.99 148.62,186.22 149.35,185.42 150.07,184.60 150.80,183.76 151.53,182.90 152.26,182.01 152.98,181.10 153.71,180.16 154.44,179.20 155.17,178.22 155.89,177.21 156.62,176.18 157.35,175.12 158.08,174.03 158.80,172.92 159.53,171.78 160.26,170.62 160.98,169.43 161.71,168.22 162.44,166.97 163.17,165.71 163.89,164.41 164.62,163.09 165.35,161.75 166.08,160.38 166.80,158.98 167.53,157.56 168.26,156.11 168.99,154.64 169.71,153.15 170.44,151.63 171.17,150.09 171.90,148.52 172.62,146.94 173.35,145.33 174.08,143.70 174.81,142.05 175.53,140.38 176.26,138.70 176.99,136.99 177.72,135.27 178.44,133.53 179.17,131.78 179.90,130.02 180.63,128.24 181.35,126.45 182.08,124.65 182.81,122.84 183.54,121.03 184.26,119.20 184.99,117.37 185.72,115.54 186.45,113.70 187.17,111.86 187.90,110.02 188.63,108.18 189.35,106.34 190.08,104.50 190.81,102.67 191.54,100.85 192.26,99.03 192.99,97.22 193.72,95.41 194.45,93.62 195.17,91.84 195.90,90.07 196.63,88.32 197.36,86.58 198.08,84.85 198.81,83.14 199.54,81.45 200.27,79.78 200.99,78.12 201.72,76.49 202.45,74.87 203.18,73.28 203.90,71.71 204.63,70.16 205.36,68.64 206.09,67.13 206.81,65.66 207.54,64.20 208.27,62.77 209.00,61.37 209.72,59.99 210.45,58.64 211.18,57.31 211.91,56.01 212.63,54.74 213.36,53.49 214.09,52.27 214.82,51.07 215.54,49.90 216.27,48.75 217.00,47.64 217.73,46.54 218.45,45.48 219.18,44.44 219.91,43.42 220.63,42.43 221.36,41.46 222.09,40.52 222.82,39.60 223.54,38.71 224.27,37.84 225.00,36.99 225.73,36.16 226.45,35.36 227.18,34.58 227.91,33.82 228.64,33.08 229.36,32.37 230.09,31.67 230.82,31.00 231.55,30.34 232.27,29.70 233.00,29.08 233.73,28.48 234.46,27.90 235.18,27.34 235.91,26.79 236.64,26.26 237.37,25.75 238.09,25.25 238.82,24.76 239.55,24.30 240.28,23.84 241.00,23.40 241.73,22.98 242.46,22.57 243.19,22.17 243.91,21.79 244.64,21.41 245.37,21.05 246.10,20.70 246.82,20.37 247.55,20.04 248.28,19.72 249.00,19.42 249.73,19.12 250.46,18.84 251.19,18.56 251.91,18.30 252.64,18.04 253.37,17.79 254.10,17.55 254.82,17.32 255.55,17.09 256.28,16.88 257.01,16.67 257.73,16.46 258.46,16.27 259.19,16.08 259.92,15.90 260.64,15.72 261.37,15.55 262.10,15.39 262.83,15.23 263.55,15.08 264.28,14.93 265.01,14.79 265.74,14.65 266.46,14.52 267.19,14.39 267.92,14.27" fill="none" stroke="#000" stroke-width="1.6" stroke-linejoin="round"/>
<polyline points="122.43,204.93 123.16,204.85 123.89,204.78 124.61,204.70 125.34,204.61 126.07,204.53 126.80,204.44 127.52,204.35 128.25,204.26 128.98,204.16 129.70,204.06 130.43,203.95 131.16,203.84 131.89,203.73 132.61,203.61 133.34,203.49 134.07,203.37 134.80,203.24 135.52,203.10 136.25,202.97 136.98,202.82 137.71,202.67 138.43,202.52 139.16,202.36 139.89,202.20 140.62,202.03 141.34,201.85 142.07,201.67 142.80,201.48 143.53,201.29 144.25,201.08 144.98,200.87 145.71,200.66 146.44,200.44 147.16,200.20 147.89,199.97 148.62,199.72 149.35,199.46 150.07,199.20 150.80,198.93 151.53,198.64 152.26,198.35 152.98,198.05 153.71,197.74 154.44,197.42 155.17,197.09 155.89,196.74 156.62,196.39 157.35,196.02 158.08,195.64 158.80,195.25 159.53,194.85 160.26,194.43 160.98,194.00 161.71,193.55 162.44,193.10 163.17,192.62 163.89,192.13 164.62,191.63 165.35,191.11 166.08,190.58 166.80,190.02 167.53,189.45 168.26,188.87 168.99,188.26 169.71,187.64 170.44,187.00 171.17,186.34 171.90,185.66 172.62,184.95 173.35,184.23 174.08,183.49 174.81,182.73 175.53,181.94 176.26,181.13 176.99,180.30 177.72,179.45 178.44,178.57 179.17,177.67 179.90,176.75 180.63,175.80 181.35,174.82 182.08,173.82 182.81,172.80 183.54,171.75 184.26,170.67 184.99,169.56 185.72,168.43 186.45,167.27 187.17,166.08 187.90,164.87 188.63,163.63 189.35,162.36 190.08,161.06 190.81,159.73 191.54,158.38 192.26,157.00 192.99,155.59 193.72,154.15 194.45,152.68 195.17,151.19 195.90,149.66 196.63,148.11 197.36,146.54 198.08,144.93 198.81,143.30 199.54,141.65 200.27,139.96 200.99,138.26 201.72,136.52 202.45,134.77 203.18,132.99 203.90,131.18 204.63,129.36 205.36,127.51 206.09,125.64 206.81,123.76 207.54,121.85 208.27,119.93 209.00,117.99 209.72,116.03 210.45,114.06 211.18,112.08 211.91,110.08 212.63,108.08 213.36,106.06 214.09,104.03 214.82,102.00 215.54,99.96 216.27,97.91 217.00,95.86 217.73,93.81 218.45,91.76 219.18,89.70 219.91,87.65 220.63,85.60 221.36,83.56 222.09,81.52 222.82,79.49 223.54,77.46 224.27,75.45 225.00,73.44 225.73,71.45 226.45,69.46 227.18,67.50 227.91,65.54 228.64,63.61 229.36,61.69 230.09,59.78 230.82,57.90 231.55,56.04 232.27,54.19 233.00,52.37 233.73,50.57 234.46,48.80 235.18,47.04 235.91,45.31 236.64,43.61 237.37,41.93 238.09,40.28 238.82,38.65 239.55,37.05 240.28,35.48 241.00,33.93 241.73,32.42 242.46,30.93 243.19,29.46 243.91,28.03 244.64,26.62 245.37,25.25 246.10,23.90 246.82,22.58 247.55,21.28 248.28,20.02 249.00,18.78 249.73,17.57 250.46,16.39 251.19,15.23 251.91,14.11 252.64,13.01 253.37,11.93 254.10,10.88 254.82,9.86 255.55,8.87 256.28,7.90 257.01,6.95 257.73,6.03" fill="none" stroke="#000" stroke-width="1.6" stroke-linejoin="round"/>
<polyline points="419.08,203.58 419.78,203.33 420.48,203.07 421.18,202.81 421.88,202.53 422.57,202.24 423.27,201.95 423.97,201.64 424.67,201.33 425.37,201.00 426.07,200.66 426.77,200.31 427.47,199.95 428.16,199.57 428.86,199.19 429.56,198.79 430.26,198.37 430.96,197.94 431.66,197.50 432.36,197.05 433.06,196.58 433.75,196.09 434.45,195.59 435.15,195.07 435.85,194.54 436.55,193.99 437.25,193.42 437.95,192.84 438.65,192.23 439.34,191.61 440.04,190.97 440.74,190.31 441.44,189.63 442.14,188.93 442.84,188.21 443.54,187.46 444.24,186.70 444.93,185.92 445.63,185.11 446.33,184.28 447.03,183.43 447.73,182.55 448.43,181.65 449.13,180.73 449.83,179.79 450.53,178.81 451.22,177.82 451.92,176.80 452.62,175.75 453.32,174.68 454.02,173.59 454.72,172.47 455.42,171.32 456.12,170.15 456.81,168.95 457.51,167.73 458.21,166.48 458.91,165.21 459.61,163.91 460.31,162.58 461.01,161.23 461.71,159.86 462.40,158.46 463.10,157.04 463.80,155.60 464.50,154.13 465.20,152.63 465.90,151.12 466.60,149.59 467.30,148.03 467.99,146.45 468.69,144.86 469.39,143.24 470.09,141.61 470.79,139.96 471.49,138.29 472.19,136.61 472.89,134.92 473.58,133.21 474.28,131.49 474.98,129.75 475.68,128.01 476.38,126.26 477.08,124.50 477.78,122.73 478.48,120.96 479.17,119.18 479.87,117.41 480.57,115.63 481.27,113.84 481.97,112.06 482.67,110.29 483.37,108.51 484.07,106.74 484.76,104.97 485.46,103.21 486.16,101.46 486.86,99.72 487.56,97.99 488.26,96.27 488.96,94.56 489.66,92.87 490.35,91.19 491.05,89.53 491.75,87.88 492.45,86.25 493.15,84.64 493.85,83.04 494.55,81.47 495.25,79.92 495.94,78.38 496.64,76.87 497.34,75.39 498.04,73.92 498.74,72.48 499.44,71.06 500.14,69.66 500.84,68.29 501.53,66.95 502.23,65.63 502.93,64.33 503.63,63.06 504.33,61.82 505.03,60.60 505.73,59.40 506.43,58.23 507.13,57.09 507.82,55.97 508.52,54.88 509.22,53.82 509.92,52.77 510.62,51.76 511.32,50.77 512.02,49.80 512.72,48.86 513.41,47.94 514.11,47.04 514.81,46.17 515.51,45.32 516.21,44.49 516.91,43.69 517.61,42.91 518.31,42.15 519.00,41.41 519.70,40.69 520.40,39.99 521.10,39.32 521.80,38.66 522.50,38.02 523.20,37.40 523.90,36.80 524.59,36.22 525.29,35.65 525.99,35.10 526.69,34.57 527.39,34.06 528.09,33.56 528.79,33.07 529.49,32.61 530.18,32.15 530.88,31.71 531.58,31.29 532.28,30.88 532.98,30.48 533.68,30.09 534.38,29.72 535.08,29.36 535.77,29.01 536.47,28.67 537.17,28.35 537.87,28.03 538.57,27.73 539.27,27.43 539.97,27.15 540.67,26.87 541.36,26.61 542.06,26.35 542.76,26.10 543.46,25.86 544.16,25.63 544.86,25.41 545.56,25.19 546.26,24.98 546.95,24.78 547.65,24.59 548.35,24.40 549.05,24.22 549.75,24.04 550.45,23.88 551.15,23.71 551.85,23.56 552.54,23.40 553.24,23.26 553.94,23.12 554.64,22.98 555.34,22.85 556.04,22.72 556.74,22.60 557.44,22.48 558.13,22.37 558.83,22.26" fill="none" stroke="#000" stroke-width="1.6" stroke-linejoin="round"/>
<polyline points="419.08,203.93 419.78,203.90 420.48,203.87 421.18,203.84 421.88,203.80 422.57,203.76 423.27,203.73 423.97,203.69 424.67,203.64 425.37,203.60 426.07,203.55 426.77,203.50 427.47,203.45 428.16,203.39 428.86,203.33 429.56,203.27 430.26,203.21 430.96,203.14 431.66,203.06 432.36,202.99 433.06,202.91 433.75,202.82 434.45,202.73 435.15,202.64 435.85,202.54 436.55,202.44 437.25,202.33 437.95,202.21 438.65,202.09 439.34,201.96 440.04,201.83 440.74,201.69 441.44,201.54 442.14,201.38 442.84,201.22 443.54,201.04 444.24,200.86 444.93,200.67 445.63,200.47 446.33,200.25 447.03,200.03 447.73,199.80 448.43,199.55 449.13,199.29 449.83,199.02 450.53,198.73 451.22,198.43 451.92,198.11 452.62,197.78 453.32,197.43 454.02,197.07 454.72,196.68 455.42,196.28 456.12,195.86 456.81,195.42 457.51,194.95 458.21,194.47 458.91,193.96 459.61,193.42 460.31,192.87 461.01,192.28 461.71,191.67 462.40,191.04 463.10,190.37 463.80,189.67 464.50,188.95 465.20,188.19 465.90,187.40 466.60,186.58 467.30,185.72 467.99,184.82 468.69,183.89 469.39,182.93 470.09,181.92 470.79,180.88 471.49,179.80 472.19,178.67 472.89,177.51 473.58,176.31 474.28,175.06 474.98,173.77 475.68,172.44 476.38,171.07 477.08,169.66 477.78,168.20 478.48,166.70 479.17,165.16 479.87,163.58 480.57,161.96 481.27,160.30 481.97,158.60 482.67,156.86 483.37,155.09 484.07,153.28 484.76,151.43 485.46,149.56 486.16,147.66 486.86,145.73 487.56,143.77 488.26,141.79 488.96,139.79 489.66,137.77 490.35,135.74 491.05,133.69 491.75,131.63 492.45,129.57 493.15,127.50 493.85,125.43 494.55,123.36 495.25,121.30 495.94,119.24 496.64,117.19 497.34,115.16 498.04,113.14 498.74,111.14 499.44,109.16 500.14,107.20 500.84,105.27 501.53,103.37 502.23,101.49 502.93,99.65 503.63,97.84 504.33,96.07 505.03,94.33 505.73,92.63 506.43,90.97 507.13,89.34 507.82,87.76 508.52,86.22 509.22,84.72 509.92,83.27 510.62,81.85 511.32,80.48 512.02,79.15 512.72,77.86 513.41,76.61 514.11,75.41 514.81,74.24 515.51,73.12 516.21,72.04 516.91,70.99 517.61,69.99 518.31,69.02 519.00,68.09 519.70,67.20 520.40,66.34 521.10,65.51 521.80,64.72 522.50,63.96 523.20,63.24 523.90,62.54 524.59,61.87 525.29,61.24 525.99,60.63 526.69,60.04 527.39,59.48 528.09,58.95 528.79,58.44 529.49,57.96 530.18,57.49 530.88,57.05 531.58,56.63 532.28,56.22 532.98,55.84 533.68,55.47 534.38,55.13 535.08,54.79 535.77,54.48 536.47,54.18 537.17,53.89 537.87,53.62 538.57,53.36 539.27,53.11 539.97,52.87 540.67,52.65 541.36,52.44 542.06,52.23 542.76,52.04 543.46,51.86 544.16,51.69 544.86,51.52 545.56,51.36 546.26,51.21 546.95,51.07 547.65,50.94 548.35,50.81 549.05,50.69 549.75,50.57 550.45,50.46 551.15,50.36 551.85,50.26 552.54,50.17 553.24,50.08 553.94,49.99 554.64,49.91 555.34,49.84 556.04,49.76 556.74,49.70 557.44,49.63 558.13,49.57 558.83,49.51" fill="none" stroke="#000" stroke-width="1.6" stroke-linejoin="round"/>
<polyline points="419.08,206.40 419.78,206.40 420.48,206.40 421.18,206.40 421.88,206.40 422.57,206.40 423.27,206.40 423.97,206.40 424.67,206.40 425.37,206.40 426.07,206.40 426.77,206.40 427.47,206.40 428.16,206.40 428.86,206.40 429.56,206.40 430.26,206.40 430.96,206.26 431.66,206.11 432.36,205.96 433.06,205.80 433.75,205.63 434.45,205.46 435.15,205.28 435.85,205.09 436.55,204.90 437.25,204.69 437.95,204.49 438.65,204.27 439.34,204.04 440.04,203.81 440.74,203.56 441.44,203.31 442.14,203.05 442.84,202.78 443.54,202.50 444.24,202.20 444.93,201.90 445.63,201.59 446.33,201.26 447.03,200.92 447.73,200.57 448.43,200.21 449.13,199.83 449.83,199.44 450.53,199.04 451.22,198.62 451.92,198.19 452.62,197.74 453.32,197.28 454.02,196.80 454.72,196.31 455.42,195.80 456.12,195.27 456.81,194.72 457.51,194.15 458.21,193.57 458.91,192.97 459.61,192.35 460.31,191.70 461.01,191.04 461.71,190.36 462.40,189.66 463.10,188.93 463.80,188.18 464.50,187.41 465.20,186.62 465.90,185.81 466.60,184.97 467.30,184.11 467.99,183.22 468.69,182.31 469.39,181.38 470.09,180.42 470.79,179.43 471.49,178.43 472.19,177.39 472.89,176.33 473.58,175.25 474.28,174.14 474.98,173.01 475.68,171.85 476.38,170.67 477.08,169.46 477.78,168.23 478.48,166.97 479.17,165.69 479.87,164.39 480.57,163.06 481.27,161.71 481.97,160.34 482.67,158.95 483.37,157.53 484.07,156.10 484.76,154.65 485.46,153.18 486.16,151.69 486.86,150.18 487.56,148.66 488.26,147.13 488.96,145.58 489.66,144.01 490.35,142.44 491.05,140.86 491.75,139.26 492.45,137.66 493.15,136.06 493.85,134.44 494.55,132.83 495.25,131.21 495.94,129.59 496.64,127.97 497.34,126.35 498.04,124.73 498.74,123.11 499.44,121.51 500.14,119.90 500.84,118.31 501.53,116.72 502.23,115.15 502.93,113.58 503.63,112.03 504.33,110.49 505.03,108.96 505.73,107.45 506.43,105.96 507.13,104.49 507.82,103.03 508.52,101.59 509.22,100.17 509.92,98.77 510.62,97.40 511.32,96.04 512.02,94.71 512.72,93.40 513.41,92.11 514.11,90.85 514.81,89.61 515.51,88.40 516.21,87.21 516.91,86.04 517.61,84.90 518.31,83.78 519.00,82.69 519.70,81.63 520.40,80.59 521.10,79.57 521.80,78.58 522.50,77.62 523.20,76.68 523.90,75.76 524.59,74.87 525.29,74.00 525.99,73.16 526.69,72.34 527.39,71.54 528.09,70.76 528.79,70.01 529.49,69.28 530.18,68.57 530.88,67.88 531.58,67.21 532.28,66.57 532.98,65.94 533.68,65.33 534.38,64.74 535.08,64.17 535.77,63.62 536.47,63.09 537.17,62.57 537.87,62.07 538.57,61.59 539.27,61.12 539.97,60.67 540.67,60.23 541.36,59.81 542.06,59.41 542.76,59.01 543.46,58.63 544.16,58.27 544.86,57.91 545.56,57.57 546.26,57.24 546.95,56.93 547.65,56.62 548.35,56.32 549.05,56.04 549.75,55.76 550.45,55.50 551.15,55.25 551.85,55.00 552.54,54.76 553.24,54.53 553.94,54.31 554.64,54.10 555.34,53.90 556.04,53.70 556.74,53.51 557.44,53.33 558.13,53.16 558.83,52.99" fill="none" stroke="#000" stroke-width="1.6" stroke-linejoin="round"/>
<polyline points="119.70,496.32 120.39,496.27 121.09,496.21 121.79,496.16 122.49,496.10 123.19,496.04 123.88,495.97 124.58,495.90 125.28,495.83 125.98,495.76 126.68,495.69 127.37,495.61 128.07,495.53 128.77,495.44 129.47,495.36 130.17,495.27 130.86,495.17 131.56,495.07 132.26,494.97 132.96,494.87 133.65,494.76 134.35,494.64 135.05,494.53 135.75,494.40 136.45,494.28 137.14,494.14 137.84,494.01 138.54,493.86 139.24,493.72 139.94,493.56 140.63,493.40 141.33,493.24 142.03,493.07 142.73,492.89 143.42,492.70 144.12,492.51 144.82,492.31 145.52,492.10 146.22,491.89 146.91,491.67 147.61,491.44 148.31,491.20 149.01,490.95 149.71,490.69 150.40,490.43 151.10,490.15 151.80,489.86 152.50,489.57 153.19,489.26 153.89,488.94 154.59,488.61 155.29,488.26 155.99,487.91 156.68,487.54 157.38,487.16 158.08,486.77 158.78,486.36 159.48,485.94 160.17,485.50 160.87,485.05 161.57,484.58 162.27,484.09 162.96,483.59 163.66,483.07 164.36,482.54 165.06,481.98 165.76,481.41 166.45,480.82 167.15,480.21 167.85,479.58 168.55,478.93 169.25,478.25 169.94,477.56 170.64,476.84 171.34,476.10 172.04,475.34 172.73,474.56 173.43,473.75 174.13,472.91 174.83,472.05 175.53,471.17 176.22,470.25 176.92,469.32 177.62,468.35 178.32,467.36 179.02,466.34 179.71,465.29 180.41,464.22 181.11,463.11 181.81,461.98 182.50,460.81 183.20,459.62 183.90,458.40 184.60,457.15 185.30,455.86 185.99,454.55 186.69,453.21 187.39,451.83 188.09,450.43 188.79,449.00 189.48,447.53 190.18,446.04 190.88,444.51 191.58,442.96 192.27,441.38 192.97,439.77 193.67,438.13 194.37,436.46 195.07,434.77 195.76,433.05 196.46,431.30 197.16,429.53 197.86,427.74 198.56,425.92 199.25,424.08 199.95,422.22 200.65,420.33 201.35,418.43 202.04,416.51 202.74,414.58 203.44,412.63 204.14,410.66 204.84,408.68 205.53,406.69 206.23,404.69 206.93,402.68 207.63,400.67 208.33,398.65 209.02,396.62 209.72,394.59 210.42,392.56 211.12,390.53 211.82,388.50 212.51,386.48 213.21,384.46 213.91,382.45 214.61,380.44 215.30,378.45 216.00,376.46 216.70,374.49 217.40,372.53 218.10,370.58 218.79,368.65 219.49,366.74 220.19,364.85 220.89,362.98 221.59,361.12 222.28,359.29 222.98,357.49 223.68,355.70 224.38,353.94 225.07,352.21 225.77,350.50 226.47,348.82 227.17,347.16 227.87,345.54 228.56,343.94 229.26,342.37 229.96,340.83 230.66,339.32 231.36,337.84 232.05,336.38 232.75,334.96 233.45,333.57 234.15,332.21 234.84,330.88 235.54,329.58 236.24,328.31 236.94,327.07 237.64,325.86 238.33,324.68 239.03,323.53 239.73,322.41 240.43,321.32 241.13,320.26 241.82,319.22 242.52,318.21 243.22,317.23 243.92,316.28 244.61,315.35 245.31,314.45 246.01,313.58 246.71,312.73 247.41,311.91 248.10,311.11 248.80,310.33 249.50,309.58 250.20,308.85 250.90,308.15 251.59,307.46 252.29,306.80 252.99,306.15 253.69,305.53" fill="none" stroke="#000" stroke-width="1.6" stroke-linejoin="round"/>
<polyline points="119.70,496.67 120.39,496.64 121.09,496.61 121.79,496.58 122.49,496.55 123.19,496.52 123.88,496.48 124.58,496.45 125.28,496.41 125.98,496.37 126.68,496.33 127.37,496.29 128.07,496.24 128.77,496.20 129.47,496.15 130.17,496.10 130.86,496.05 131.56,495.99 132.26,495.94 132.96,495.88 133.65,495.82 134.35,495.75 135.05,495.68 135.75,495.61 136.45,495.54 137.14,495.47 137.84,495.39 138.54,495.30 139.24,495.22 139.94,495.13 140.63,495.03 141.33,494.94 142.03,494.84 142.73,494.73 143.42,494.62 144.12,494.50 144.82,494.38 145.52,494.26 146.22,494.13 146.91,494.00 147.61,493.85 148.31,493.71 149.01,493.56 149.71,493.40 150.40,493.23 151.10,493.06 151.80,492.88 152.50,492.69 153.19,492.50 153.89,492.30 154.59,492.09 155.29,491.87 155.99,491.64 156.68,491.40 157.38,491.16 158.08,490.90 158.78,490.64 159.48,490.36 160.17,490.07 160.87,489.77 161.57,489.46 162.27,489.14 162.96,488.81 163.66,488.46 164.36,488.10 165.06,487.73 165.76,487.34 166.45,486.94 167.15,486.52 167.85,486.09 168.55,485.65 169.25,485.18 169.94,484.70 170.64,484.21 171.34,483.69 172.04,483.16 172.73,482.61 173.43,482.04 174.13,481.45 174.83,480.84 175.53,480.21 176.22,479.57 176.92,478.90 177.62,478.21 178.32,477.50 179.02,476.76 179.71,476.01 180.41,475.23 181.11,474.43 181.81,473.60 182.50,472.76 183.20,471.89 183.90,470.99 184.60,470.08 185.30,469.13 185.99,468.17 186.69,467.18 187.39,466.17 188.09,465.13 188.79,464.07 189.48,462.99 190.18,461.88 190.88,460.76 191.58,459.60 192.27,458.43 192.97,457.24 193.67,456.02 194.37,454.79 195.07,453.53 195.76,452.26 196.46,450.96 197.16,449.65 197.86,448.33 198.56,446.98 199.25,445.62 199.95,444.25 200.65,442.87 201.35,441.47 202.04,440.07 202.74,438.65 203.44,437.23 204.14,435.80 204.84,434.36 205.53,432.92 206.23,431.48 206.93,430.04 207.63,428.59 208.33,427.15 209.02,425.71 209.72,424.27 210.42,422.83 211.12,421.41 211.82,419.99 212.51,418.58 213.21,417.18 213.91,415.79 214.61,414.41 215.30,413.04 216.00,411.69 216.70,410.36 217.40,409.04 218.10,407.74 218.79,406.45 219.49,405.19 220.19,403.94 220.89,402.72 221.59,401.51 222.28,400.33 222.98,399.17 223.68,398.03 224.38,396.91 225.07,395.81 225.77,394.74 226.47,393.70 227.17,392.67 227.87,391.67 228.56,390.69 229.26,389.74 229.96,388.81 230.66,387.91 231.36,387.02 232.05,386.16 232.75,385.33 233.45,384.52 234.15,383.73 234.84,382.96 235.54,382.22 236.24,381.49 236.94,380.79 237.64,380.11 238.33,379.45 239.03,378.82 239.73,378.20 240.43,377.60 241.13,377.02 241.82,376.46 242.52,375.92 243.22,375.40 243.92,374.89 244.61,374.40 245.31,373.93 246.01,373.48 246.71,373.04 247.41,372.61 248.10,372.20 248.80,371.81 249.50,371.43 250.20,371.06 250.90,370.71 251.59,370.37 252.29,370.04 252.99,369.73 253.69,369.42 254.38,369.13 255.08,368.85 255.78,368.58 256.48,368.32 257.18,368.06 257.87,367.82 258.57,367.59 259.27,367.37" fill="none" stroke="#000" stroke-width="1.6" stroke-linejoin="round"/>
<polyline points="119.70,499.10 120.39,499.10 121.09,499.10 121.79,499.10 122.49,499.10 123.19,499.10 123.88,499.10 124.58,499.10 125.28,499.10 125.98,499.10 126.68,499.10 127.37,499.10 128.07,499.10 128.77,499.10 129.47,499.10 130.17,499.10 130.86,499.10 131.56,499.10 132.26,499.10 132.96,499.10 133.65,499.10 134.35,499.10 135.05,499.10 135.75,499.10 136.45,499.10 137.14,499.10 137.84,499.10 138.54,499.10 139.24,499.10 139.94,499.10 140.63,499.10 141.33,499.10 142.03,499.10 142.73,499.10 143.42,499.10 144.12,499.10 144.82,499.10 145.52,499.10 146.22,499.10 146.91,499.10 147.61,499.10 148.31,499.10 149.01,499.10 149.71,499.10 150.40,499.10 151.10,499.10 151.80,499.10 152.50,499.10 153.19,499.10 153.89,499.10 154.59,499.10 155.29,499.09 155.99,499.06 156.68,499.04 157.38,499.01 158.08,498.98 158.78,498.95 159.48,498.92 160.17,498.89 160.87,498.85 161.57,498.82 162.27,498.78 162.96,498.73 163.66,498.69 164.36,498.64 165.06,498.59 165.76,498.54 166.45,498.48 167.15,498.42 167.85,498.36 168.55,498.30 169.25,498.23 169.94,498.15 170.64,498.07 171.34,497.99 172.04,497.90 172.73,497.81 173.43,497.71 174.13,497.61 174.83,497.50 175.53,497.38 176.22,497.26 176.92,497.13 177.62,496.99 178.32,496.85 179.02,496.70 179.71,496.54 180.41,496.37 181.11,496.19 181.81,496.00 182.50,495.80 183.20,495.59 183.90,495.36 184.60,495.13 185.30,494.88 185.99,494.62 186.69,494.34 187.39,494.06 188.09,493.75 188.79,493.43 189.48,493.09 190.18,492.74 190.88,492.36 191.58,491.97 192.27,491.55 192.97,491.12 193.67,490.67 194.37,490.19 195.07,489.69 195.76,489.16 196.46,488.61 197.16,488.03 197.86,487.43 198.56,486.80 199.25,486.14 199.95,485.45 200.65,484.74 201.35,483.99 202.04,483.21 202.74,482.40 203.44,481.55 204.14,480.68 204.84,479.77 205.53,478.82 206.23,477.85 206.93,476.83 207.63,475.79 208.33,474.71 209.02,473.59 209.72,472.44 210.42,471.26 211.12,470.05 211.82,468.80 212.51,467.53 213.21,466.22 213.91,464.88 214.61,463.52 215.30,462.13 216.00,460.72 216.70,459.28 217.40,457.83 218.10,456.35 218.79,454.86 219.49,453.35 220.19,451.83 220.89,450.30 221.59,448.77 222.28,447.23 222.98,445.69 223.68,444.14 224.38,442.61 225.07,441.07 225.77,439.55 226.47,438.03 227.17,436.53 227.87,435.04 228.56,433.57 229.26,432.12 229.96,430.69 230.66,429.29 231.36,427.91 232.05,426.55 232.75,425.23 233.45,423.93 234.15,422.66 234.84,421.43 235.54,420.22 236.24,419.05 236.94,417.91 237.64,416.81 238.33,415.74 239.03,414.71 239.73,413.71 240.43,412.74 241.13,411.81 241.82,410.91 242.52,410.04 243.22,409.21 243.92,408.41 244.61,407.64 245.31,406.90 246.01,406.19 246.71,405.51 247.41,404.86 248.10,404.24 248.80,403.65 249.50,403.08 250.20,402.54 250.90,402.02 251.59,401.52 252.29,401.05 252.99,400.61 253.69,400.18 254.38,399.77 255.08,399.39 255.78,399.02 256.48,398.67 257.18,398.33 257.87,398.02 258.57,397.72 259.27,397.43" fill="none" stroke="#000" stroke-width="1.6" stroke-linejoin="round"/>
<polyline points="419.18,495.75 419.88,495.48 420.58,495.21 421.28,494.92 421.98,494.61 422.68,494.30 423.38,493.97 424.08,493.63 424.78,493.27 425.48,492.90 426.18,492.51 426.88,492.11 427.58,491.69 428.28,491.25 428.98,490.80 429.68,490.33 430.38,489.84 431.08,489.33 431.78,488.80 432.48,488.24 433.18,487.67 433.88,487.08 434.58,486.46 435.28,485.82 435.98,485.15 436.68,484.46 437.38,483.74 438.08,483.00 438.78,482.23 439.48,481.44 440.18,480.61 440.88,479.76 441.58,478.87 442.28,477.96 442.98,477.02 443.68,476.04 444.38,475.04 445.08,474.00 445.78,472.93 446.48,471.83 447.18,470.69 447.88,469.52 448.58,468.32 449.28,467.08 449.98,465.81 450.68,464.50 451.38,463.16 452.08,461.78 452.78,460.37 453.48,458.93 454.18,457.45 454.88,455.94 455.58,454.40 456.28,452.82 456.98,451.22 457.68,449.58 458.38,447.91 459.08,446.21 459.78,444.49 460.48,442.74 461.18,440.96 461.88,439.15 462.58,437.33 463.28,435.48 463.98,433.61 464.68,431.72 465.38,429.82 466.08,427.90 466.78,425.96 467.48,424.02 468.18,422.06 468.88,420.10 469.58,418.13 470.28,416.16 470.98,414.18 471.68,412.21 472.38,410.24 473.08,408.27 473.78,406.31 474.48,404.35 475.18,402.41 475.88,400.47 476.58,398.55 477.28,396.65 477.98,394.77 478.68,392.90 479.38,391.05 480.08,389.23 480.78,387.43 481.48,385.65 482.18,383.90 482.88,382.18 483.58,380.48 484.28,378.81 484.98,377.18 485.67,375.57 486.37,374.00 487.07,372.46 487.77,370.95 488.47,369.48 489.17,368.04 489.87,366.63 490.57,365.26 491.27,363.92 491.97,362.62 492.67,361.35 493.37,360.12 494.07,358.91 494.77,357.75 495.47,356.61 496.17,355.51 496.87,354.45 497.57,353.41 498.27,352.41 498.97,351.44 499.67,350.49 500.37,349.58 501.07,348.70 501.77,347.85 502.47,347.03 503.17,346.24 503.87,345.47 504.57,344.73 505.27,344.02 505.97,343.33 506.67,342.66 507.37,342.02 508.07,341.41 508.77,340.81 509.47,340.24 510.17,339.69 510.87,339.16 511.57,338.66 512.27,338.17 512.97,337.70 513.67,337.24 514.37,336.81 515.07,336.39 515.77,335.99 516.47,335.60 517.17,335.23 517.87,334.88 518.57,334.54 519.27,334.21 519.97,333.90 520.67,333.59 521.37,333.31 522.07,333.03 522.77,332.76 523.47,332.51 524.17,332.26 524.87,332.03 525.57,331.80 526.27,331.59 526.97,331.38 527.67,331.19 528.37,331.00 529.07,330.82 529.77,330.64 530.47,330.48 531.17,330.32 531.87,330.16 532.57,330.02 533.27,329.88 533.97,329.75 534.67,329.62 535.37,329.49 536.07,329.38 536.77,329.27 537.47,329.16 538.17,329.05 538.87,328.96 539.57,328.86 540.27,328.77 540.97,328.69 541.67,328.60 542.37,328.52 543.07,328.45 543.77,328.38 544.47,328.31 545.17,328.24 545.87,328.18 546.57,328.12 547.27,328.06 547.97,328.00 548.67,327.95 549.37,327.90 550.07,327.85 550.77,327.81 551.47,327.76 552.16,327.72 552.86,327.68 553.56,327.64 554.26,327.60 554.96,327.57 555.66,327.53 556.36,327.50 557.06,327.47 557.76,327.44 558.46,327.41 559.16,327.39" fill="none" stroke="#000" stroke-width="1.6" stroke-linejoin="round"/>
<polyline points="378.85,487.09 379.55,486.78 380.25,486.46 380.95,486.13 381.65,485.79 382.35,485.44 383.05,485.08 383.75,484.71 384.45,484.33 385.15,483.94 385.85,483.54 386.55,483.13 387.25,482.71 387.95,482.28 388.65,481.83 389.35,481.38 390.05,480.91 390.75,480.43 391.45,479.94 392.15,479.43 392.85,478.91 393.55,478.38 394.25,477.84 394.95,477.28 395.65,476.71 396.35,476.13 397.05,475.53 397.75,474.91 398.45,474.29 399.15,473.64 399.85,472.99 400.55,472.32 401.25,471.63 401.95,470.93 402.65,470.21 403.35,469.48 404.05,468.73 404.75,467.96 405.45,467.18 406.15,466.38 406.85,465.57 407.55,464.74 408.25,463.90 408.95,463.03 409.65,462.16 410.35,461.26 411.05,460.35 411.75,459.42 412.45,458.48 413.15,457.52 413.85,456.54 414.55,455.55 415.25,454.54 415.95,453.52 416.65,452.48 417.35,451.42 418.05,450.35 418.75,449.26 419.45,448.16 420.15,447.04 420.85,445.91 421.55,444.77 422.25,443.61 422.95,442.44 423.65,441.25 424.35,440.06 425.05,438.85 425.75,437.62 426.45,436.39 427.15,435.15 427.85,433.89 428.55,432.63 429.25,431.35 429.95,430.07 430.65,428.78 431.35,427.48 432.04,426.17 432.74,424.86 433.44,423.54 434.14,422.22 434.84,420.89 435.54,419.56 436.24,418.22 436.94,416.88 437.64,415.54 438.34,414.20 439.04,412.85 439.74,411.51 440.44,410.17 441.14,408.83 441.84,407.49 442.54,406.15 443.24,404.82 443.94,403.49 444.64,402.16 445.34,400.84 446.04,399.53 446.74,398.22 447.44,396.92 448.14,395.63 448.84,394.35 449.54,393.07 450.24,391.81 450.94,390.55 451.64,389.30 452.34,388.07 453.04,386.85 453.74,385.63 454.44,384.44 455.14,383.25 455.84,382.08 456.54,380.92 457.24,379.77 457.94,378.64 458.64,377.52 459.34,376.42 460.04,375.33 460.74,374.25 461.44,373.20 462.14,372.15 462.84,371.13 463.54,370.12 464.24,369.12 464.94,368.14 465.64,367.18 466.34,366.24 467.04,365.31 467.74,364.39 468.44,363.50 469.14,362.62 469.84,361.75 470.54,360.90 471.24,360.07 471.94,359.26 472.64,358.46 473.34,357.68 474.04,356.91 474.74,356.16 475.44,355.42 476.14,354.70 476.84,354.00 477.54,353.31 478.24,352.64 478.94,351.98 479.64,351.34 480.34,350.71 481.04,350.09 481.74,349.49 482.44,348.90 483.14,348.33 483.84,347.77 484.54,347.23 485.24,346.70 485.94,346.18 486.64,345.67 487.34,345.18 488.04,344.70 488.74,344.23 489.44,343.77 490.14,343.32 490.84,342.89 491.54,342.47 492.24,342.05 492.94,341.65 493.64,341.26 494.34,340.88 495.04,340.51 495.74,340.15 496.44,339.80 497.14,339.46 497.84,339.13 498.53,338.80 499.23,338.49 499.93,338.18 500.63,337.89 501.33,337.60 502.03,337.32 502.73,337.04 503.43,336.78 504.13,336.52 504.83,336.27 505.53,336.03 506.23,335.79 506.93,335.56 507.63,335.33 508.33,335.12 509.03,334.91 509.73,334.70 510.43,334.50 511.13,334.31 511.83,334.12 512.53,333.94 513.23,333.76 513.93,333.59 514.63,333.43 515.33,333.26 516.03,333.11 516.73,332.95 517.43,332.81 518.13,332.66 518.83,332.52" fill="none" stroke="#000" stroke-width="1.6" stroke-linejoin="round"/>
<polyline points="378.85,484.10 379.55,483.70 380.25,483.28 380.95,482.86 381.65,482.43 382.35,481.98 383.05,481.53 383.75,481.07 384.45,480.59 385.15,480.11 385.85,479.61 386.55,479.11 387.25,478.59 387.95,478.06 388.65,477.52 389.35,476.97 390.05,476.40 390.75,475.83 391.45,475.24 392.15,474.64 392.85,474.02 393.55,473.40 394.25,472.76 394.95,472.11 395.65,471.44 396.35,470.76 397.05,470.07 397.75,469.36 398.45,468.65 399.15,467.91 399.85,467.17 400.55,466.41 401.25,465.63 401.95,464.84 402.65,464.04 403.35,463.22 404.05,462.39 404.75,461.55 405.45,460.69 406.15,459.82 406.85,458.93 407.55,458.02 408.25,457.11 408.95,456.18 409.65,455.23 410.35,454.27 411.05,453.30 411.75,452.31 412.45,451.31 413.15,450.29 413.85,449.26 414.55,448.22 415.25,447.16 415.95,446.09 416.65,445.01 417.35,443.91 418.05,442.81 418.75,441.68 419.45,440.55 420.15,439.40 420.85,438.25 421.55,437.08 422.25,435.90 422.95,434.70 423.65,433.50 424.35,432.29 425.05,431.07 425.75,429.83 426.45,428.59 427.15,427.34 427.85,426.08 428.55,424.82 429.25,423.54 429.95,422.26 430.65,420.97 431.35,419.68 432.04,418.38 432.74,417.07 433.44,415.76 434.14,414.45 434.84,413.13 435.54,411.80 436.24,410.48 436.94,409.15 437.64,407.82 438.34,406.49 439.04,405.16 439.74,403.83 440.44,402.50 441.14,401.17 441.84,399.84 442.54,398.51 443.24,397.18 443.94,395.86 444.64,394.54 445.34,393.22 446.04,391.91 446.74,390.61 447.44,389.31 448.14,388.01 448.84,386.72 449.54,385.44 450.24,384.16 450.94,382.90 451.64,381.64 452.34,380.39 453.04,379.14 453.74,377.91 454.44,376.69 455.14,375.47 455.84,374.27 456.54,373.08 457.24,371.89 457.94,370.72 458.64,369.56 459.34,368.42 460.04,367.28 460.74,366.16 461.44,365.05 462.14,363.95 462.84,362.87 463.54,361.79 464.24,360.74 464.94,359.69 465.64,358.66 466.34,357.64 467.04,356.64 467.74,355.65 468.44,354.67 469.14,353.71 469.84,352.77 470.54,351.83 471.24,350.92 471.94,350.01 472.64,349.12 473.34,348.25 474.04,347.39 474.74,346.54 475.44,345.71 476.14,344.89 476.84,344.08 477.54,343.29 478.24,342.52 478.94,341.76 479.64,341.01 480.34,340.27 481.04,339.55 481.74,338.85 482.44,338.15 483.14,337.47 483.84,336.81 484.54,336.15 485.24,335.51 485.94,334.89 486.64,334.27 487.34,333.67 488.04,333.08 488.74,332.50 489.44,331.93 490.14,331.38 490.84,330.84 491.54,330.31 492.24,329.79 492.94,329.28 493.64,328.78 494.34,328.30 495.04,327.82 495.74,327.36 496.44,326.91 497.14,326.46 497.84,326.03 498.53,325.60 499.23,325.19 499.93,324.78 500.63,324.39 501.33,324.00 502.03,323.63 502.73,323.26 503.43,322.90 504.13,322.55 504.83,322.20 505.53,321.87 506.23,321.54 506.93,321.23 507.63,320.91 508.33,320.61 509.03,320.31 509.73,320.03 510.43,319.74 511.13,319.47 511.83,319.20 512.53,318.94 513.23,318.69 513.93,318.44 514.63,318.19 515.33,317.96 516.03,317.73 516.73,317.50 517.43,317.28 518.13,317.07 518.83,316.86" fill="none" stroke="#000" stroke-width="1.6" stroke-linejoin="round"/>
<path d="M267.92 32.41L270.52 36.81L265.32 36.81Z" fill="#000"/>
<path d="M258.22 26.99L260.82 31.39L255.62 31.39Z" fill="#000"/>
<path d="M248.52 25.78L251.12 30.18L245.92 30.18Z" fill="#000"/>
<path d="M238.82 25.78L241.42 30.18L236.22 30.18Z" fill="#000"/>
<path d="M229.12 32.21L231.72 36.61L226.52 36.61Z" fill="#000"/>
<path d="M219.42 38.24L222.02 42.64L216.82 42.64Z" fill="#000"/>
<path d="M209.72 47.68L212.32 52.08L207.12 52.08Z" fill="#000"/>
<path d="M200.02 61.34L202.62 65.74L197.42 65.74Z" fill="#000"/>
<path d="M190.32 78.01L192.92 82.41L187.72 82.41Z" fill="#000"/>
<path d="M180.63 105.34L183.23 109.74L178.03 109.74Z" fill="#000"/>
<path d="M170.93 131.86L173.53 136.26L168.33 136.26Z" fill="#000"/>
<path d="M161.23 154.96L163.83 159.36L158.63 159.36Z" fill="#000"/>
<path d="M151.53 173.24L154.13 177.64L148.93 177.64Z" fill="#000"/>
<path d="M141.83 188.11L144.43 192.51L139.23 192.51Z" fill="#000"/>
<path d="M132.13 200.56L134.73 204.96L129.53 204.96Z" fill="#000"/>
<path d="M122.43 195.94L125.03 200.34L119.83 200.34Z" fill="#000"/>
<circle cx="267.92" cy="8.31" r="2.80" fill="#000"/>
<circle cx="258.22" cy="10.52" r="2.80" fill="#000"/>
<circle cx="248.52" cy="15.95" r="2.80" fill="#000"/>
<circle cx="238.82" cy="36.04" r="2.80" fill="#000"/>
<circle cx="229.12" cy="59.34" r="2.80" fill="#000"/>
<circle cx="219.42" cy="93.09" r="2.80" fill="#000"/>
<circle cx="209.72" cy="119.81" r="2.80" fill="#000"/>
<circle cx="200.02" cy="140.10" r="2.80" fill="#000"/>
<circle cx="190.32" cy="163.81" r="2.80" fill="#000"/>
<circle cx="180.63" cy="172.04" r="2.80" fill="#000"/>
<circle cx="170.93" cy="182.09" r="2.80" fill="#000"/>
<circle cx="161.23" cy="195.35" r="2.80" fill="#000"/>
<circle cx="151.53" cy="198.96" r="2.80" fill="#000"/>
<circle cx="141.83" cy="200.97" r="2.80" fill="#000"/>
<circle cx="132.13" cy="204.99" r="2.80" fill="#000"/>
<circle cx="122.43" cy="203.99" r="2.80" fill="#000"/>
<path d="M267.92 18.57L271.32 21.97L267.92 25.37L264.52 21.97Z" fill="#000"/>
<path d="M258.22 19.17L261.62 22.57L258.22 25.97L254.82 22.57Z" fill="#000"/>
<path d="M248.52 9.73L251.92 13.13L248.52 16.53L245.12 13.13Z" fill="#000"/>
<path d="M238.82 12.95L242.22 16.35L238.82 19.75L235.42 16.35Z" fill="#000"/>
<path d="M229.12 26.81L232.52 30.21L229.12 33.61L225.72 30.21Z" fill="#000"/>
<path d="M219.42 27.41L222.82 30.81L219.42 34.21L216.02 30.81Z" fill="#000"/>
<path d="M209.72 53.33L213.12 56.73L209.72 60.13L206.32 56.73Z" fill="#000"/>
<path d="M200.02 80.65L203.42 84.05L200.02 87.45L196.62 84.05Z" fill="#000"/>
<path d="M190.32 99.13L193.72 102.53L190.32 105.93L186.92 102.53Z" fill="#000"/>
<path d="M180.63 120.63L184.03 124.03L180.63 127.43L177.23 124.03Z" fill="#000"/>
<path d="M170.93 141.32L174.33 144.72L170.93 148.12L167.53 144.72Z" fill="#000"/>
<path d="M161.23 163.22L164.63 166.62L161.23 170.02L157.83 166.62Z" fill="#000"/>
<path d="M151.53 182.91L154.93 186.31L151.53 189.71L148.13 186.31Z" fill="#000"/>
<path d="M141.83 190.54L145.23 193.94L141.83 197.34L138.43 193.94Z" fill="#000"/>
<path d="M132.13 197.17L135.53 200.57L132.13 203.97L128.73 200.57Z" fill="#000"/>
<path d="M122.43 197.57L125.83 200.97L122.43 204.37L119.03 200.97Z" fill="#000"/>
<path d="M558.83 79.76L561.31 82.24L558.83 84.72L556.35 82.24Z" fill="#fff" stroke="#000" stroke-width="1"/>
<path d="M558.83 79.76L561.31 82.24L558.83 84.72Z" fill="#000"/>
<path d="M549.52 56.08L552.00 58.56L549.52 61.04L547.04 58.56Z" fill="#fff" stroke="#000" stroke-width="1"/>
<path d="M549.52 56.08L552.00 58.56L549.52 61.04Z" fill="#000"/>
<path d="M540.20 60.51L542.68 62.99L540.20 65.47L537.72 62.99Z" fill="#fff" stroke="#000" stroke-width="1"/>
<path d="M540.20 60.51L542.68 62.99L540.20 65.47Z" fill="#000"/>
<path d="M530.88 66.09L533.36 68.57L530.88 71.05L528.40 68.57Z" fill="#fff" stroke="#000" stroke-width="1"/>
<path d="M530.88 66.09L533.36 68.57L530.88 71.05Z" fill="#000"/>
<path d="M521.57 75.33L524.05 77.81L521.57 80.29L519.09 77.81Z" fill="#fff" stroke="#000" stroke-width="1"/>
<path d="M521.57 75.33L524.05 77.81L521.57 80.29Z" fill="#000"/>
<path d="M512.25 92.08L514.73 94.56L512.25 97.04L509.77 94.56Z" fill="#fff" stroke="#000" stroke-width="1"/>
<path d="M512.25 92.08L514.73 94.56L512.25 97.04Z" fill="#000"/>
<path d="M502.93 117.68L505.41 120.16L502.93 122.64L500.45 120.16Z" fill="#fff" stroke="#000" stroke-width="1"/>
<path d="M502.93 117.68L505.41 120.16L502.93 122.64Z" fill="#000"/>
<path d="M493.62 130.00L496.10 132.48L493.62 134.96L491.14 132.48Z" fill="#fff" stroke="#000" stroke-width="1"/>
<path d="M493.62 130.00L496.10 132.48L493.62 134.96Z" fill="#000"/>
<path d="M484.30 149.64L486.78 152.12L484.30 154.59L481.82 152.12Z" fill="#fff" stroke="#000" stroke-width="1"/>
<path d="M484.30 149.64L486.78 152.12L484.30 154.59Z" fill="#000"/>
<path d="M474.98 176.59L477.46 179.06L474.98 181.54L472.50 179.06Z" fill="#fff" stroke="#000" stroke-width="1"/>
<path d="M474.98 176.59L477.46 179.06L474.98 181.54Z" fill="#000"/>
<path d="M465.66 188.52L468.14 191.00L465.66 193.48L463.18 191.00Z" fill="#fff" stroke="#000" stroke-width="1"/>
<path d="M465.66 188.52L468.14 191.00L465.66 193.48Z" fill="#000"/>
<path d="M456.35 191.79L458.83 194.27L456.35 196.75L453.87 194.27Z" fill="#fff" stroke="#000" stroke-width="1"/>
<path d="M456.35 191.79L458.83 194.27L456.35 196.75Z" fill="#000"/>
<path d="M447.03 198.15L449.51 200.62L447.03 203.10L444.55 200.62Z" fill="#fff" stroke="#000" stroke-width="1"/>
<path d="M447.03 198.15L449.51 200.62L447.03 203.10Z" fill="#000"/>
<path d="M437.71 202.00L440.19 204.47L437.71 206.95L435.23 204.47Z" fill="#fff" stroke="#000" stroke-width="1"/>
<path d="M437.71 202.00L440.19 204.47L437.71 206.95Z" fill="#000"/>
<path d="M428.40 202.96L430.88 205.44L428.40 207.92L425.92 205.44Z" fill="#fff" stroke="#000" stroke-width="1"/>
<path d="M428.40 202.96L430.88 205.44L428.40 207.92Z" fill="#000"/>
<path d="M419.08 203.34L421.56 205.82L419.08 208.30L416.60 205.82Z" fill="#fff" stroke="#000" stroke-width="1"/>
<path d="M419.08 203.34L421.56 205.82L419.08 208.30Z" fill="#000"/>
<path d="M558.83 49.92L561.31 52.40L558.83 54.88L556.35 52.40Z" fill="#fff" stroke="#000" stroke-width="1"/>
<path d="M558.83 49.92L558.83 54.88L556.35 52.40Z" fill="#000"/>
<path d="M549.52 46.26L552.00 48.74L549.52 51.22L547.04 48.74Z" fill="#fff" stroke="#000" stroke-width="1"/>
<path d="M549.52 46.26L549.52 51.22L547.04 48.74Z" fill="#000"/>
<path d="M540.20 35.67L542.68 38.16L540.20 40.64L537.72 38.16Z" fill="#fff" stroke="#000" stroke-width="1"/>
<path d="M540.20 35.67L540.20 40.64L537.72 38.16Z" fill="#000"/>
<path d="M530.88 54.54L533.36 57.02L530.88 59.50L528.40 57.02Z" fill="#fff" stroke="#000" stroke-width="1"/>
<path d="M530.88 54.54L530.88 59.50L528.40 57.02Z" fill="#000"/>
<path d="M521.57 57.62L524.05 60.10L521.57 62.58L519.09 60.10Z" fill="#fff" stroke="#000" stroke-width="1"/>
<path d="M521.57 57.62L521.57 62.58L519.09 60.10Z" fill="#000"/>
<path d="M512.25 75.33L514.73 77.81L512.25 80.29L509.77 77.81Z" fill="#fff" stroke="#000" stroke-width="1"/>
<path d="M512.25 75.33L512.25 80.29L509.77 77.81Z" fill="#000"/>
<path d="M502.93 103.43L505.41 105.91L502.93 108.39L500.45 105.91Z" fill="#fff" stroke="#000" stroke-width="1"/>
<path d="M502.93 103.43L502.93 108.39L500.45 105.91Z" fill="#000"/>
<path d="M493.62 122.88L496.10 125.36L493.62 127.84L491.14 125.36Z" fill="#fff" stroke="#000" stroke-width="1"/>
<path d="M493.62 122.88L493.62 127.84L491.14 125.36Z" fill="#000"/>
<path d="M484.30 139.24L486.78 141.72L484.30 144.20L481.82 141.72Z" fill="#fff" stroke="#000" stroke-width="1"/>
<path d="M484.30 139.24L484.30 144.20L481.82 141.72Z" fill="#000"/>
<path d="M474.98 162.34L477.46 164.82L474.98 167.30L472.50 164.82Z" fill="#fff" stroke="#000" stroke-width="1"/>
<path d="M474.98 162.34L474.98 167.30L472.50 164.82Z" fill="#000"/>
<path d="M465.66 176.59L468.14 179.06L465.66 181.54L463.18 179.06Z" fill="#fff" stroke="#000" stroke-width="1"/>
<path d="M465.66 176.59L465.66 181.54L463.18 179.06Z" fill="#000"/>
<path d="M456.35 188.71L458.83 191.19L456.35 193.67L453.87 191.19Z" fill="#fff" stroke="#000" stroke-width="1"/>
<path d="M456.35 188.71L456.35 193.67L453.87 191.19Z" fill="#000"/>
<path d="M447.03 197.95L449.51 200.43L447.03 202.91L444.55 200.43Z" fill="#fff" stroke="#000" stroke-width="1"/>
<path d="M447.03 197.95L447.03 202.91L444.55 200.43Z" fill="#000"/>
<path d="M437.71 201.03L440.19 203.51L437.71 205.99L435.23 203.51Z" fill="#fff" stroke="#000" stroke-width="1"/>
<path d="M437.71 201.03L437.71 205.99L435.23 203.51Z" fill="#000"/>
<path d="M428.40 202.96L430.88 205.44L428.40 207.92L425.92 205.44Z" fill="#fff" stroke="#000" stroke-width="1"/>
<path d="M428.40 202.96L428.40 207.92L425.92 205.44Z" fill="#000"/>
<path d="M419.08 202.96L421.56 205.44L419.08 207.92L416.60 205.44Z" fill="#fff" stroke="#000" stroke-width="1"/>
<path d="M419.08 202.96L419.08 207.92L416.60 205.44Z" fill="#000"/>
<path d="M558.83 27.54L561.55 30.26L558.83 32.98L556.11 30.26Z" fill="#000"/>
<path d="M549.52 18.88L552.24 21.60L549.52 24.32L546.80 21.60Z" fill="#000"/>
<path d="M540.20 19.27L542.92 21.99L540.20 24.71L537.48 21.99Z" fill="#000"/>
<path d="M530.88 22.73L533.60 25.45L530.88 28.17L528.16 25.45Z" fill="#000"/>
<path d="M521.57 38.90L524.29 41.62L521.57 44.34L518.85 41.62Z" fill="#000"/>
<path d="M512.25 36.01L514.97 38.73L512.25 41.45L509.53 38.73Z" fill="#000"/>
<path d="M502.93 61.81L505.65 64.53L502.93 67.25L500.21 64.53Z" fill="#000"/>
<path d="M493.62 87.41L496.34 90.13L493.62 92.85L490.90 90.13Z" fill="#000"/>
<path d="M484.30 109.74L487.02 112.46L484.30 115.18L481.58 112.46Z" fill="#000"/>
<path d="M474.98 123.99L477.70 126.71L474.98 129.43L472.26 126.71Z" fill="#000"/>
<path d="M465.66 144.58L468.38 147.30L465.66 150.02L462.94 147.30Z" fill="#000"/>
<path d="M456.35 165.95L459.07 168.67L456.35 171.39L453.63 168.67Z" fill="#000"/>
<path d="M447.03 184.24L449.75 186.96L447.03 189.68L444.31 186.96Z" fill="#000"/>
<path d="M437.71 189.24L440.43 191.96L437.71 194.68L434.99 191.96Z" fill="#000"/>
<path d="M428.40 198.29L431.12 201.01L428.40 203.73L425.68 201.01Z" fill="#000"/>
<path d="M419.08 199.64L421.80 202.36L419.08 205.08L416.36 202.36Z" fill="#000"/>
<path d="M259.27 397.82A2.08 2.08 0 0 1 259.27 401.98Z" fill="#000"/>
<path d="M249.96 398.78A2.08 2.08 0 0 1 249.96 402.94Z" fill="#000"/>
<path d="M240.66 409.40A2.08 2.08 0 0 1 240.66 413.56Z" fill="#000"/>
<path d="M231.36 428.51A2.08 2.08 0 0 1 231.36 432.67Z" fill="#000"/>
<path d="M222.05 447.61A2.08 2.08 0 0 1 222.05 451.77Z" fill="#000"/>
<path d="M212.75 467.88A2.08 2.08 0 0 1 212.75 472.04Z" fill="#000"/>
<path d="M203.44 473.09A2.08 2.08 0 0 1 203.44 477.25Z" fill="#000"/>
<path d="M194.14 475.21A2.08 2.08 0 0 1 194.14 479.37Z" fill="#000"/>
<path d="M184.83 492.00A2.08 2.08 0 0 1 184.83 496.16Z" fill="#000"/>
<path d="M175.53 491.23A2.08 2.08 0 0 1 175.53 495.39Z" fill="#000"/>
<path d="M166.22 495.09A2.08 2.08 0 0 1 166.22 499.25Z" fill="#000"/>
<path d="M156.92 496.06A2.08 2.08 0 0 1 156.92 500.22Z" fill="#000"/>
<path d="M147.61 496.44A2.08 2.08 0 0 1 147.61 500.60Z" fill="#000"/>
<path d="M138.31 496.44A2.08 2.08 0 0 1 138.31 500.60Z" fill="#000"/>
<path d="M129.00 496.44A2.08 2.08 0 0 1 129.00 500.60Z" fill="#000"/>
<path d="M119.70 496.44A2.08 2.08 0 0 1 119.70 500.60Z" fill="#000"/>
<path d="M259.27 358.25A2.08 2.08 0 0 0 259.27 362.41Z" fill="#000"/>
<path d="M249.96 372.34A2.08 2.08 0 0 0 249.96 376.50Z" fill="#000"/>
<path d="M240.66 378.90A2.08 2.08 0 0 0 240.66 383.06Z" fill="#000"/>
<path d="M231.36 389.33A2.08 2.08 0 0 0 231.36 393.49Z" fill="#000"/>
<path d="M222.05 395.70A2.08 2.08 0 0 0 222.05 399.86Z" fill="#000"/>
<path d="M212.75 416.93A2.08 2.08 0 0 0 212.75 421.08Z" fill="#000"/>
<path d="M203.44 433.91A2.08 2.08 0 0 0 203.44 438.07Z" fill="#000"/>
<path d="M194.14 447.61A2.08 2.08 0 0 0 194.14 451.77Z" fill="#000"/>
<path d="M184.83 462.86A2.08 2.08 0 0 0 184.83 467.02Z" fill="#000"/>
<path d="M175.53 480.62A2.08 2.08 0 0 0 175.53 484.78Z" fill="#000"/>
<path d="M166.22 488.34A2.08 2.08 0 0 0 166.22 492.50Z" fill="#000"/>
<path d="M156.92 492.20A2.08 2.08 0 0 0 156.92 496.36Z" fill="#000"/>
<path d="M147.61 494.13A2.08 2.08 0 0 0 147.61 498.29Z" fill="#000"/>
<path d="M138.31 495.09A2.08 2.08 0 0 0 138.31 499.25Z" fill="#000"/>
<path d="M129.00 495.48A2.08 2.08 0 0 0 129.00 499.64Z" fill="#000"/>
<path d="M119.70 495.86A2.08 2.08 0 0 0 119.70 500.02Z" fill="#000"/>
<circle cx="259.27" cy="308.80" r="2.24" fill="#000"/>
<circle cx="249.96" cy="310.93" r="2.24" fill="#000"/>
<circle cx="240.66" cy="313.63" r="2.24" fill="#000"/>
<circle cx="231.36" cy="334.86" r="2.24" fill="#000"/>
<circle cx="222.05" cy="357.44" r="2.24" fill="#000"/>
<circle cx="212.75" cy="389.28" r="2.24" fill="#000"/>
<circle cx="203.44" cy="415.72" r="2.24" fill="#000"/>
<circle cx="194.14" cy="434.83" r="2.24" fill="#000"/>
<circle cx="184.83" cy="457.61" r="2.24" fill="#000"/>
<circle cx="175.53" cy="465.90" r="2.24" fill="#000"/>
<circle cx="166.22" cy="475.55" r="2.24" fill="#000"/>
<circle cx="156.92" cy="488.29" r="2.24" fill="#000"/>
<circle cx="147.61" cy="492.73" r="2.24" fill="#000"/>
<circle cx="138.31" cy="494.08" r="2.24" fill="#000"/>
<circle cx="129.00" cy="494.85" r="2.24" fill="#000"/>
<circle cx="119.70" cy="490.42" r="2.24" fill="#000"/>
<path d="M559.16 331.51L561.37 335.25L556.95 335.25Z" fill="#000"/>
<path d="M549.83 325.90L552.04 329.64L547.62 329.64Z" fill="#000"/>
<path d="M540.50 324.74L542.71 328.48L538.29 328.48Z" fill="#000"/>
<path d="M531.17 324.74L533.38 328.48L528.96 328.48Z" fill="#000"/>
<path d="M521.84 329.00L524.05 332.74L519.63 332.74Z" fill="#000"/>
<path d="M512.50 335.96L514.71 339.70L510.29 339.70Z" fill="#000"/>
<path d="M503.17 350.09L505.38 353.83L500.96 353.83Z" fill="#000"/>
<path d="M493.84 360.34L496.05 364.08L491.63 364.08Z" fill="#000"/>
<path d="M484.51 375.63L486.72 379.37L482.30 379.37Z" fill="#000"/>
<path d="M475.18 402.53L477.39 406.27L472.97 406.27Z" fill="#000"/>
<path d="M465.84 426.72L468.05 430.46L463.63 430.46Z" fill="#000"/>
<path d="M456.51 449.16L458.72 452.90L454.30 452.90Z" fill="#000"/>
<path d="M447.18 471.61L449.39 475.35L444.97 475.35Z" fill="#000"/>
<path d="M437.85 484.18L440.06 487.92L435.64 487.92Z" fill="#000"/>
<path d="M428.52 495.02L430.73 498.76L426.31 498.76Z" fill="#000"/>
<path d="M419.18 495.99L421.39 499.73L416.97 499.73Z" fill="#000"/>
<rect x="516.79" y="339.27" width="4.08" height="4.08" fill="#fff" stroke="#444" stroke-width="0.9"/>
<rect x="507.46" y="334.24" width="4.08" height="4.08" fill="#fff" stroke="#444" stroke-width="0.9"/>
<rect x="498.13" y="339.27" width="4.08" height="4.08" fill="#fff" stroke="#444" stroke-width="0.9"/>
<rect x="488.80" y="333.27" width="4.08" height="4.08" fill="#fff" stroke="#444" stroke-width="0.9"/>
<rect x="479.46" y="343.53" width="4.08" height="4.08" fill="#fff" stroke="#444" stroke-width="0.9"/>
<rect x="470.13" y="340.62" width="4.08" height="4.08" fill="#fff" stroke="#444" stroke-width="0.9"/>
<rect x="460.80" y="370.04" width="4.08" height="4.08" fill="#fff" stroke="#444" stroke-width="0.9"/>
<rect x="451.47" y="385.52" width="4.08" height="4.08" fill="#fff" stroke="#444" stroke-width="0.9"/>
<rect x="442.14" y="399.06" width="4.08" height="4.08" fill="#fff" stroke="#444" stroke-width="0.9"/>
<rect x="432.80" y="423.25" width="4.08" height="4.08" fill="#fff" stroke="#444" stroke-width="0.9"/>
<rect x="423.47" y="438.92" width="4.08" height="4.08" fill="#fff" stroke="#444" stroke-width="0.9"/>
<rect x="414.14" y="446.08" width="4.08" height="4.08" fill="#fff" stroke="#444" stroke-width="0.9"/>
<rect x="404.81" y="463.11" width="4.08" height="4.08" fill="#fff" stroke="#444" stroke-width="0.9"/>
<rect x="395.48" y="471.43" width="4.08" height="4.08" fill="#fff" stroke="#444" stroke-width="0.9"/>
<rect x="386.14" y="488.07" width="4.08" height="4.08" fill="#fff" stroke="#444" stroke-width="0.9"/>
<rect x="376.81" y="490.20" width="4.08" height="4.08" fill="#fff" stroke="#444" stroke-width="0.9"/>
<rect x="516.33" y="319.07" width="5.00" height="5.00" fill="#000"/>
<rect x="507.00" y="308.82" width="5.00" height="5.00" fill="#000"/>
<rect x="497.67" y="326.43" width="5.00" height="5.00" fill="#000"/>
<rect x="488.34" y="328.36" width="5.00" height="5.00" fill="#000"/>
<rect x="479.00" y="330.68" width="5.00" height="5.00" fill="#000"/>
<rect x="469.67" y="348.29" width="5.00" height="5.00" fill="#000"/>
<rect x="460.34" y="361.64" width="5.00" height="5.00" fill="#000"/>
<rect x="451.01" y="370.54" width="5.00" height="5.00" fill="#000"/>
<rect x="441.68" y="388.93" width="5.00" height="5.00" fill="#000"/>
<rect x="432.34" y="416.02" width="5.00" height="5.00" fill="#000"/>
<rect x="423.01" y="431.30" width="5.00" height="5.00" fill="#000"/>
<rect x="413.68" y="440.78" width="5.00" height="5.00" fill="#000"/>
<rect x="404.35" y="452.78" width="5.00" height="5.00" fill="#000"/>
<rect x="395.02" y="461.49" width="5.00" height="5.00" fill="#000"/>
<rect x="385.68" y="484.52" width="5.00" height="5.00" fill="#000"/>
<rect x="376.35" y="484.52" width="5.00" height="5.00" fill="#000"/>
</svg>
</body></html>
